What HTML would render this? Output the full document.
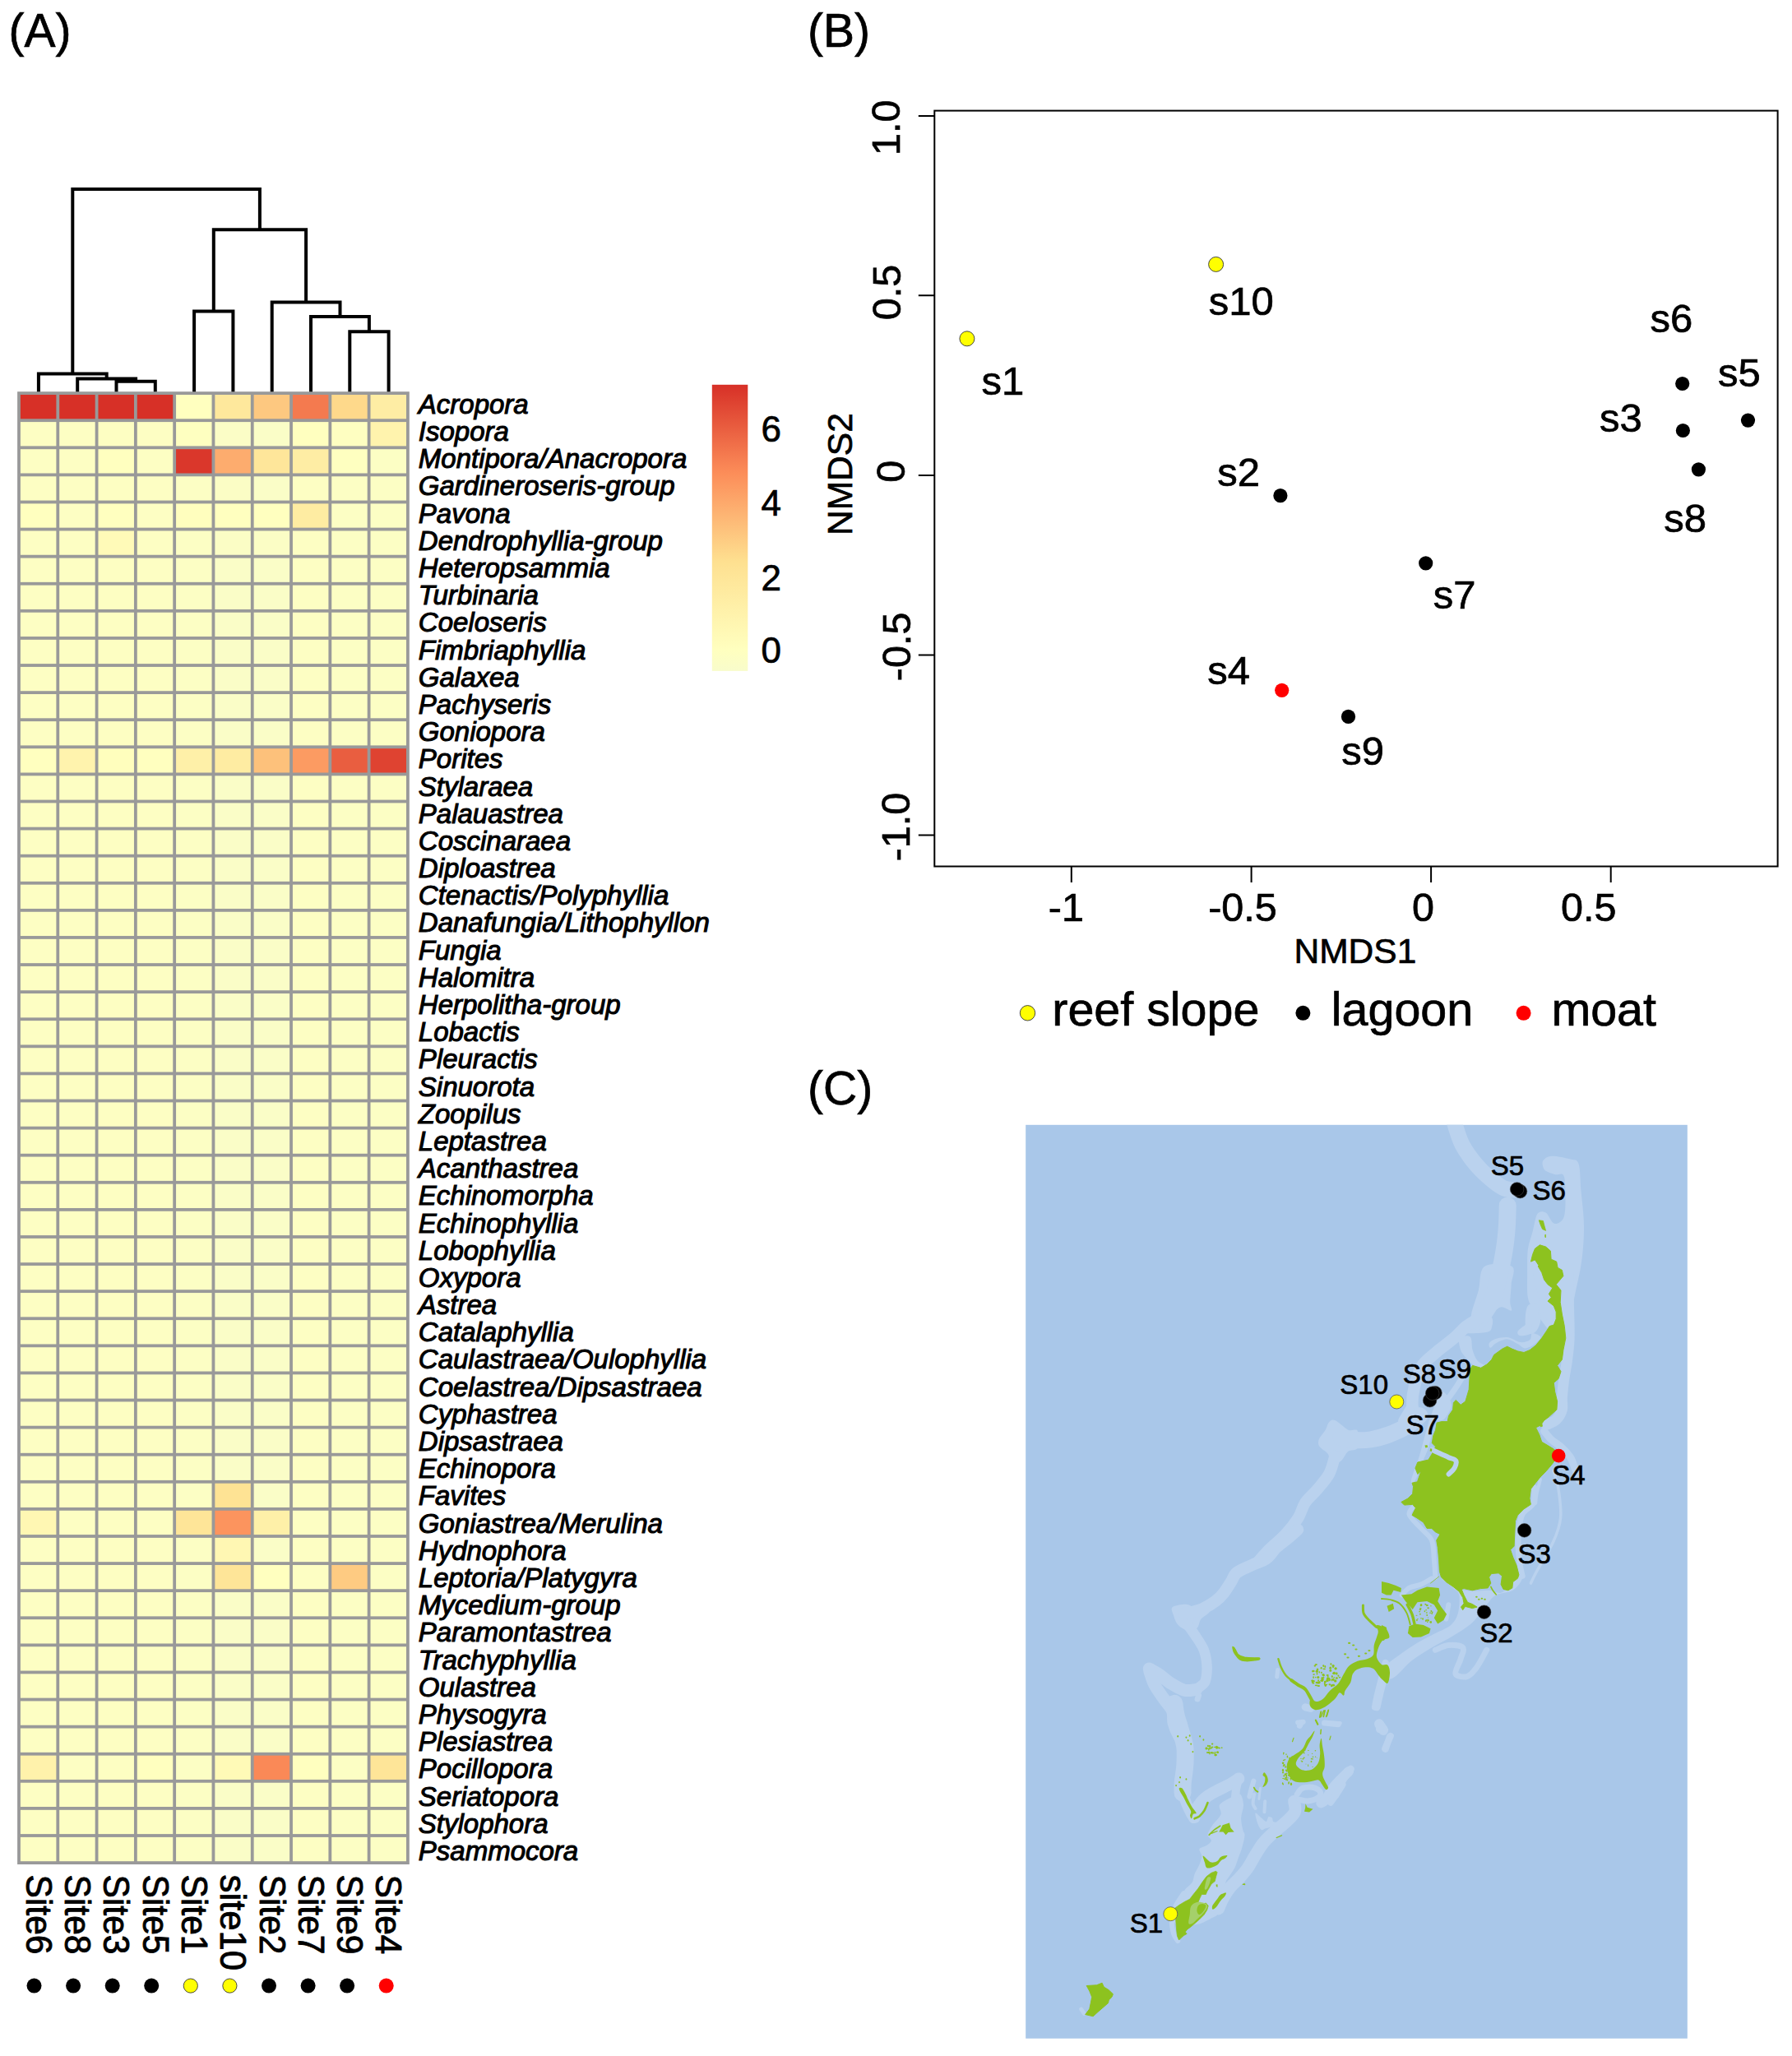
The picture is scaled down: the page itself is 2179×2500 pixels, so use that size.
<!DOCTYPE html>
<html lang="en"><head><meta charset="utf-8"><title>Figure</title>
<style>html,body{margin:0;padding:0;background:#fff}body{width:2179px;height:2500px;overflow:hidden}svg{display:block}text{font-family:"Liberation Sans",Arial,Helvetica,sans-serif;fill:#000;stroke:#000;stroke-width:.7px}.it{font-style:italic}.it text{stroke-width:1.05px}.cl text{stroke-width:.9px}</style></head><body>
<svg width="2179" height="2500" viewBox="0 0 2179 2500">
<rect width="2179" height="2500" fill="#fff"/>
<text x="10.5" y="57.4" font-size="57">(A)</text>
<text x="982" y="57.4" font-size="57">(B)</text>
<text x="982" y="1342.7" font-size="57">(C)</text>
<path d="M141.5 477.2V463.8H188.8V477.2M94.2 477.2V460.5H165.1V463.8M46.9 477.2V454.4H129.7V460.5M425.3 477.2V403.2H472.6V477.2M378.0 477.2V385.1H448.9V403.2M330.7 477.2V367.4H413.5V385.1M236.1 477.2V378.4H283.4V477.2M259.8 378.4V279.3H372.1V367.4M88.3 454.4V230.1H315.9V279.3" fill="none" stroke="#000" stroke-width="4" stroke-linejoin="miter"/>
<rect x="21.1" y="476.2" width="476.7" height="1790.8" fill="#999"/>
<g>
<rect x="24.90" y="480.00" width="43.49" height="29.29" fill="#D73027"/>
<rect x="72.19" y="480.00" width="43.49" height="29.29" fill="#D73027"/>
<rect x="119.48" y="480.00" width="43.49" height="29.29" fill="#D73027"/>
<rect x="166.77" y="480.00" width="43.49" height="29.29" fill="#D73027"/>
<rect x="214.06" y="480.00" width="43.49" height="29.29" fill="#FFFFBF"/>
<rect x="261.35" y="480.00" width="43.49" height="29.29" fill="#FEE89C"/>
<rect x="308.64" y="480.00" width="43.49" height="29.29" fill="#FDC880"/>
<rect x="355.93" y="480.00" width="43.49" height="29.29" fill="#F47A4F"/>
<rect x="403.22" y="480.00" width="43.49" height="29.29" fill="#FED98B"/>
<rect x="450.51" y="480.00" width="43.49" height="29.29" fill="#FEEDA4"/>
<rect x="24.90" y="513.09" width="43.49" height="29.29" fill="#FDFEC3"/>
<rect x="72.19" y="513.09" width="43.49" height="29.29" fill="#FDFEC3"/>
<rect x="119.48" y="513.09" width="43.49" height="29.29" fill="#FDFEC2"/>
<rect x="166.77" y="513.09" width="43.49" height="29.29" fill="#FDFEC3"/>
<rect x="214.06" y="513.09" width="43.49" height="29.29" fill="#FEFFC0"/>
<rect x="261.35" y="513.09" width="43.49" height="29.29" fill="#FBFDC6"/>
<rect x="308.64" y="513.09" width="43.49" height="29.29" fill="#FAFDC7"/>
<rect x="355.93" y="513.09" width="43.49" height="29.29" fill="#FFFFBF"/>
<rect x="403.22" y="513.09" width="43.49" height="29.29" fill="#FEFEC1"/>
<rect x="450.51" y="513.09" width="43.49" height="29.29" fill="#FFF3AD"/>
<rect x="24.90" y="546.19" width="43.49" height="29.29" fill="#FDFEC3"/>
<rect x="72.19" y="546.19" width="43.49" height="29.29" fill="#FDFEC3"/>
<rect x="119.48" y="546.19" width="43.49" height="29.29" fill="#FFFFBF"/>
<rect x="166.77" y="546.19" width="43.49" height="29.29" fill="#FDFEC3"/>
<rect x="214.06" y="546.19" width="43.49" height="29.29" fill="#DA372B"/>
<rect x="261.35" y="546.19" width="43.49" height="29.29" fill="#FDAC6E"/>
<rect x="308.64" y="546.19" width="43.49" height="29.29" fill="#FEE69A"/>
<rect x="355.93" y="546.19" width="43.49" height="29.29" fill="#FEEDA4"/>
<rect x="403.22" y="546.19" width="43.49" height="29.29" fill="#FEFFC0"/>
<rect x="450.51" y="546.19" width="43.49" height="29.29" fill="#FCFEC4"/>
<rect x="24.90" y="579.28" width="43.49" height="29.29" fill="#FDFEC3"/>
<rect x="72.19" y="579.28" width="43.49" height="29.29" fill="#FDFEC3"/>
<rect x="119.48" y="579.28" width="43.49" height="29.29" fill="#FDFEC2"/>
<rect x="166.77" y="579.28" width="43.49" height="29.29" fill="#FDFEC3"/>
<rect x="214.06" y="579.28" width="43.49" height="29.29" fill="#FCFEC4"/>
<rect x="261.35" y="579.28" width="43.49" height="29.29" fill="#FBFDC5"/>
<rect x="308.64" y="579.28" width="43.49" height="29.29" fill="#FAFDC7"/>
<rect x="355.93" y="579.28" width="43.49" height="29.29" fill="#FDFEC3"/>
<rect x="403.22" y="579.28" width="43.49" height="29.29" fill="#FCFEC4"/>
<rect x="450.51" y="579.28" width="43.49" height="29.29" fill="#FCFEC4"/>
<rect x="24.90" y="612.37" width="43.49" height="29.29" fill="#FFFFBF"/>
<rect x="72.19" y="612.37" width="43.49" height="29.29" fill="#FDFEC3"/>
<rect x="119.48" y="612.37" width="43.49" height="29.29" fill="#FFFFBF"/>
<rect x="166.77" y="612.37" width="43.49" height="29.29" fill="#FDFEC3"/>
<rect x="214.06" y="612.37" width="43.49" height="29.29" fill="#FFFEBE"/>
<rect x="261.35" y="612.37" width="43.49" height="29.29" fill="#FFFFBF"/>
<rect x="308.64" y="612.37" width="43.49" height="29.29" fill="#FFFFBF"/>
<rect x="355.93" y="612.37" width="43.49" height="29.29" fill="#FEECA2"/>
<rect x="403.22" y="612.37" width="43.49" height="29.29" fill="#FCFEC4"/>
<rect x="450.51" y="612.37" width="43.49" height="29.29" fill="#FCFEC4"/>
<rect x="24.90" y="645.46" width="43.49" height="29.29" fill="#FDFEC3"/>
<rect x="72.19" y="645.46" width="43.49" height="29.29" fill="#FDFEC3"/>
<rect x="119.48" y="645.46" width="43.49" height="29.29" fill="#FFFAB8"/>
<rect x="166.77" y="645.46" width="43.49" height="29.29" fill="#FDFEC3"/>
<rect x="214.06" y="645.46" width="43.49" height="29.29" fill="#FCFEC4"/>
<rect x="261.35" y="645.46" width="43.49" height="29.29" fill="#FBFDC5"/>
<rect x="308.64" y="645.46" width="43.49" height="29.29" fill="#FBFDC5"/>
<rect x="355.93" y="645.46" width="43.49" height="29.29" fill="#FDFEC3"/>
<rect x="403.22" y="645.46" width="43.49" height="29.29" fill="#FCFEC4"/>
<rect x="450.51" y="645.46" width="43.49" height="29.29" fill="#FCFEC4"/>
<rect x="24.90" y="678.56" width="43.49" height="29.29" fill="#FDFEC3"/>
<rect x="72.19" y="678.56" width="43.49" height="29.29" fill="#FDFEC3"/>
<rect x="119.48" y="678.56" width="43.49" height="29.29" fill="#FDFEC2"/>
<rect x="166.77" y="678.56" width="43.49" height="29.29" fill="#FDFEC3"/>
<rect x="214.06" y="678.56" width="43.49" height="29.29" fill="#FCFEC4"/>
<rect x="261.35" y="678.56" width="43.49" height="29.29" fill="#FAFDC7"/>
<rect x="308.64" y="678.56" width="43.49" height="29.29" fill="#FAFDC7"/>
<rect x="355.93" y="678.56" width="43.49" height="29.29" fill="#FDFEC3"/>
<rect x="403.22" y="678.56" width="43.49" height="29.29" fill="#FCFEC4"/>
<rect x="450.51" y="678.56" width="43.49" height="29.29" fill="#FCFEC4"/>
<rect x="24.90" y="711.65" width="43.49" height="29.29" fill="#FDFEC3"/>
<rect x="72.19" y="711.65" width="43.49" height="29.29" fill="#FDFEC3"/>
<rect x="119.48" y="711.65" width="43.49" height="29.29" fill="#FDFEC2"/>
<rect x="166.77" y="711.65" width="43.49" height="29.29" fill="#FDFEC3"/>
<rect x="214.06" y="711.65" width="43.49" height="29.29" fill="#FCFEC4"/>
<rect x="261.35" y="711.65" width="43.49" height="29.29" fill="#FAFDC7"/>
<rect x="308.64" y="711.65" width="43.49" height="29.29" fill="#FAFDC7"/>
<rect x="355.93" y="711.65" width="43.49" height="29.29" fill="#FDFEC3"/>
<rect x="403.22" y="711.65" width="43.49" height="29.29" fill="#FCFEC4"/>
<rect x="450.51" y="711.65" width="43.49" height="29.29" fill="#FCFEC4"/>
<rect x="24.90" y="744.74" width="43.49" height="29.29" fill="#FDFEC3"/>
<rect x="72.19" y="744.74" width="43.49" height="29.29" fill="#FDFEC3"/>
<rect x="119.48" y="744.74" width="43.49" height="29.29" fill="#FDFEC2"/>
<rect x="166.77" y="744.74" width="43.49" height="29.29" fill="#FDFEC3"/>
<rect x="214.06" y="744.74" width="43.49" height="29.29" fill="#FCFEC4"/>
<rect x="261.35" y="744.74" width="43.49" height="29.29" fill="#FAFDC7"/>
<rect x="308.64" y="744.74" width="43.49" height="29.29" fill="#FAFDC7"/>
<rect x="355.93" y="744.74" width="43.49" height="29.29" fill="#FDFEC3"/>
<rect x="403.22" y="744.74" width="43.49" height="29.29" fill="#FCFEC4"/>
<rect x="450.51" y="744.74" width="43.49" height="29.29" fill="#FCFEC4"/>
<rect x="24.90" y="777.83" width="43.49" height="29.29" fill="#FDFEC3"/>
<rect x="72.19" y="777.83" width="43.49" height="29.29" fill="#FDFEC3"/>
<rect x="119.48" y="777.83" width="43.49" height="29.29" fill="#FDFEC2"/>
<rect x="166.77" y="777.83" width="43.49" height="29.29" fill="#FDFEC3"/>
<rect x="214.06" y="777.83" width="43.49" height="29.29" fill="#FCFEC4"/>
<rect x="261.35" y="777.83" width="43.49" height="29.29" fill="#FAFDC7"/>
<rect x="308.64" y="777.83" width="43.49" height="29.29" fill="#FAFDC7"/>
<rect x="355.93" y="777.83" width="43.49" height="29.29" fill="#FDFEC3"/>
<rect x="403.22" y="777.83" width="43.49" height="29.29" fill="#FCFEC4"/>
<rect x="450.51" y="777.83" width="43.49" height="29.29" fill="#FCFEC4"/>
<rect x="24.90" y="810.93" width="43.49" height="29.29" fill="#FDFEC3"/>
<rect x="72.19" y="810.93" width="43.49" height="29.29" fill="#FDFEC3"/>
<rect x="119.48" y="810.93" width="43.49" height="29.29" fill="#FDFEC2"/>
<rect x="166.77" y="810.93" width="43.49" height="29.29" fill="#FDFEC3"/>
<rect x="214.06" y="810.93" width="43.49" height="29.29" fill="#FCFEC4"/>
<rect x="261.35" y="810.93" width="43.49" height="29.29" fill="#FAFDC7"/>
<rect x="308.64" y="810.93" width="43.49" height="29.29" fill="#FAFDC7"/>
<rect x="355.93" y="810.93" width="43.49" height="29.29" fill="#FDFEC3"/>
<rect x="403.22" y="810.93" width="43.49" height="29.29" fill="#FCFEC4"/>
<rect x="450.51" y="810.93" width="43.49" height="29.29" fill="#FCFEC4"/>
<rect x="24.90" y="844.02" width="43.49" height="29.29" fill="#FDFEC3"/>
<rect x="72.19" y="844.02" width="43.49" height="29.29" fill="#FDFEC3"/>
<rect x="119.48" y="844.02" width="43.49" height="29.29" fill="#FDFEC2"/>
<rect x="166.77" y="844.02" width="43.49" height="29.29" fill="#FDFEC3"/>
<rect x="214.06" y="844.02" width="43.49" height="29.29" fill="#FCFEC4"/>
<rect x="261.35" y="844.02" width="43.49" height="29.29" fill="#FAFDC7"/>
<rect x="308.64" y="844.02" width="43.49" height="29.29" fill="#FAFDC7"/>
<rect x="355.93" y="844.02" width="43.49" height="29.29" fill="#FDFEC3"/>
<rect x="403.22" y="844.02" width="43.49" height="29.29" fill="#FCFEC4"/>
<rect x="450.51" y="844.02" width="43.49" height="29.29" fill="#FCFEC4"/>
<rect x="24.90" y="877.11" width="43.49" height="29.29" fill="#FDFEC3"/>
<rect x="72.19" y="877.11" width="43.49" height="29.29" fill="#FDFEC3"/>
<rect x="119.48" y="877.11" width="43.49" height="29.29" fill="#FDFEC2"/>
<rect x="166.77" y="877.11" width="43.49" height="29.29" fill="#FDFEC3"/>
<rect x="214.06" y="877.11" width="43.49" height="29.29" fill="#FCFEC4"/>
<rect x="261.35" y="877.11" width="43.49" height="29.29" fill="#FAFDC7"/>
<rect x="308.64" y="877.11" width="43.49" height="29.29" fill="#FAFDC7"/>
<rect x="355.93" y="877.11" width="43.49" height="29.29" fill="#FDFEC3"/>
<rect x="403.22" y="877.11" width="43.49" height="29.29" fill="#FCFEC4"/>
<rect x="450.51" y="877.11" width="43.49" height="29.29" fill="#FCFEC4"/>
<rect x="24.90" y="910.20" width="43.49" height="29.29" fill="#FFFFBF"/>
<rect x="72.19" y="910.20" width="43.49" height="29.29" fill="#FFF3AD"/>
<rect x="119.48" y="910.20" width="43.49" height="29.29" fill="#FFFEBD"/>
<rect x="166.77" y="910.20" width="43.49" height="29.29" fill="#FFFFBF"/>
<rect x="214.06" y="910.20" width="43.49" height="29.29" fill="#FEF0A8"/>
<rect x="261.35" y="910.20" width="43.49" height="29.29" fill="#FEECA2"/>
<rect x="308.64" y="910.20" width="43.49" height="29.29" fill="#FDC17B"/>
<rect x="355.93" y="910.20" width="43.49" height="29.29" fill="#FC9B62"/>
<rect x="403.22" y="910.20" width="43.49" height="29.29" fill="#E95E40"/>
<rect x="450.51" y="910.20" width="43.49" height="29.29" fill="#DF4331"/>
<rect x="24.90" y="943.30" width="43.49" height="29.29" fill="#FDFEC3"/>
<rect x="72.19" y="943.30" width="43.49" height="29.29" fill="#FDFEC3"/>
<rect x="119.48" y="943.30" width="43.49" height="29.29" fill="#FDFEC2"/>
<rect x="166.77" y="943.30" width="43.49" height="29.29" fill="#FDFEC3"/>
<rect x="214.06" y="943.30" width="43.49" height="29.29" fill="#FCFEC4"/>
<rect x="261.35" y="943.30" width="43.49" height="29.29" fill="#FAFDC7"/>
<rect x="308.64" y="943.30" width="43.49" height="29.29" fill="#FAFDC7"/>
<rect x="355.93" y="943.30" width="43.49" height="29.29" fill="#FDFEC3"/>
<rect x="403.22" y="943.30" width="43.49" height="29.29" fill="#FCFEC4"/>
<rect x="450.51" y="943.30" width="43.49" height="29.29" fill="#FCFEC4"/>
<rect x="24.90" y="976.39" width="43.49" height="29.29" fill="#FDFEC3"/>
<rect x="72.19" y="976.39" width="43.49" height="29.29" fill="#FDFEC3"/>
<rect x="119.48" y="976.39" width="43.49" height="29.29" fill="#FDFEC2"/>
<rect x="166.77" y="976.39" width="43.49" height="29.29" fill="#FDFEC3"/>
<rect x="214.06" y="976.39" width="43.49" height="29.29" fill="#FCFEC4"/>
<rect x="261.35" y="976.39" width="43.49" height="29.29" fill="#FAFDC7"/>
<rect x="308.64" y="976.39" width="43.49" height="29.29" fill="#FAFDC7"/>
<rect x="355.93" y="976.39" width="43.49" height="29.29" fill="#FDFEC3"/>
<rect x="403.22" y="976.39" width="43.49" height="29.29" fill="#FCFEC4"/>
<rect x="450.51" y="976.39" width="43.49" height="29.29" fill="#FCFEC4"/>
<rect x="24.90" y="1009.48" width="43.49" height="29.29" fill="#FDFEC3"/>
<rect x="72.19" y="1009.48" width="43.49" height="29.29" fill="#FDFEC3"/>
<rect x="119.48" y="1009.48" width="43.49" height="29.29" fill="#FDFEC2"/>
<rect x="166.77" y="1009.48" width="43.49" height="29.29" fill="#FDFEC3"/>
<rect x="214.06" y="1009.48" width="43.49" height="29.29" fill="#FCFEC4"/>
<rect x="261.35" y="1009.48" width="43.49" height="29.29" fill="#FAFDC7"/>
<rect x="308.64" y="1009.48" width="43.49" height="29.29" fill="#FAFDC7"/>
<rect x="355.93" y="1009.48" width="43.49" height="29.29" fill="#FDFEC3"/>
<rect x="403.22" y="1009.48" width="43.49" height="29.29" fill="#FCFEC4"/>
<rect x="450.51" y="1009.48" width="43.49" height="29.29" fill="#FCFEC4"/>
<rect x="24.90" y="1042.57" width="43.49" height="29.29" fill="#FDFEC3"/>
<rect x="72.19" y="1042.57" width="43.49" height="29.29" fill="#FDFEC3"/>
<rect x="119.48" y="1042.57" width="43.49" height="29.29" fill="#FDFEC2"/>
<rect x="166.77" y="1042.57" width="43.49" height="29.29" fill="#FDFEC3"/>
<rect x="214.06" y="1042.57" width="43.49" height="29.29" fill="#FCFEC4"/>
<rect x="261.35" y="1042.57" width="43.49" height="29.29" fill="#FAFDC7"/>
<rect x="308.64" y="1042.57" width="43.49" height="29.29" fill="#FAFDC7"/>
<rect x="355.93" y="1042.57" width="43.49" height="29.29" fill="#FDFEC3"/>
<rect x="403.22" y="1042.57" width="43.49" height="29.29" fill="#FCFEC4"/>
<rect x="450.51" y="1042.57" width="43.49" height="29.29" fill="#FCFEC4"/>
<rect x="24.90" y="1075.67" width="43.49" height="29.29" fill="#FDFEC3"/>
<rect x="72.19" y="1075.67" width="43.49" height="29.29" fill="#FDFEC3"/>
<rect x="119.48" y="1075.67" width="43.49" height="29.29" fill="#FDFEC2"/>
<rect x="166.77" y="1075.67" width="43.49" height="29.29" fill="#FDFEC3"/>
<rect x="214.06" y="1075.67" width="43.49" height="29.29" fill="#FCFEC4"/>
<rect x="261.35" y="1075.67" width="43.49" height="29.29" fill="#FAFDC7"/>
<rect x="308.64" y="1075.67" width="43.49" height="29.29" fill="#FAFDC7"/>
<rect x="355.93" y="1075.67" width="43.49" height="29.29" fill="#FDFEC3"/>
<rect x="403.22" y="1075.67" width="43.49" height="29.29" fill="#FCFEC4"/>
<rect x="450.51" y="1075.67" width="43.49" height="29.29" fill="#FCFEC4"/>
<rect x="24.90" y="1108.76" width="43.49" height="29.29" fill="#FDFEC3"/>
<rect x="72.19" y="1108.76" width="43.49" height="29.29" fill="#FDFEC3"/>
<rect x="119.48" y="1108.76" width="43.49" height="29.29" fill="#FDFEC2"/>
<rect x="166.77" y="1108.76" width="43.49" height="29.29" fill="#FDFEC3"/>
<rect x="214.06" y="1108.76" width="43.49" height="29.29" fill="#FCFEC4"/>
<rect x="261.35" y="1108.76" width="43.49" height="29.29" fill="#FAFDC7"/>
<rect x="308.64" y="1108.76" width="43.49" height="29.29" fill="#FAFDC7"/>
<rect x="355.93" y="1108.76" width="43.49" height="29.29" fill="#FDFEC3"/>
<rect x="403.22" y="1108.76" width="43.49" height="29.29" fill="#FCFEC4"/>
<rect x="450.51" y="1108.76" width="43.49" height="29.29" fill="#FCFEC4"/>
<rect x="24.90" y="1141.85" width="43.49" height="29.29" fill="#FDFEC3"/>
<rect x="72.19" y="1141.85" width="43.49" height="29.29" fill="#FDFEC3"/>
<rect x="119.48" y="1141.85" width="43.49" height="29.29" fill="#FDFEC2"/>
<rect x="166.77" y="1141.85" width="43.49" height="29.29" fill="#FDFEC3"/>
<rect x="214.06" y="1141.85" width="43.49" height="29.29" fill="#FCFEC4"/>
<rect x="261.35" y="1141.85" width="43.49" height="29.29" fill="#FAFDC7"/>
<rect x="308.64" y="1141.85" width="43.49" height="29.29" fill="#FAFDC7"/>
<rect x="355.93" y="1141.85" width="43.49" height="29.29" fill="#FDFEC3"/>
<rect x="403.22" y="1141.85" width="43.49" height="29.29" fill="#FCFEC4"/>
<rect x="450.51" y="1141.85" width="43.49" height="29.29" fill="#FCFEC4"/>
<rect x="24.90" y="1174.94" width="43.49" height="29.29" fill="#FDFEC3"/>
<rect x="72.19" y="1174.94" width="43.49" height="29.29" fill="#FDFEC3"/>
<rect x="119.48" y="1174.94" width="43.49" height="29.29" fill="#FDFEC2"/>
<rect x="166.77" y="1174.94" width="43.49" height="29.29" fill="#FDFEC3"/>
<rect x="214.06" y="1174.94" width="43.49" height="29.29" fill="#FCFEC4"/>
<rect x="261.35" y="1174.94" width="43.49" height="29.29" fill="#FAFDC7"/>
<rect x="308.64" y="1174.94" width="43.49" height="29.29" fill="#FAFDC7"/>
<rect x="355.93" y="1174.94" width="43.49" height="29.29" fill="#FDFEC3"/>
<rect x="403.22" y="1174.94" width="43.49" height="29.29" fill="#FCFEC4"/>
<rect x="450.51" y="1174.94" width="43.49" height="29.29" fill="#FCFEC4"/>
<rect x="24.90" y="1208.04" width="43.49" height="29.29" fill="#FDFEC3"/>
<rect x="72.19" y="1208.04" width="43.49" height="29.29" fill="#FDFEC3"/>
<rect x="119.48" y="1208.04" width="43.49" height="29.29" fill="#FDFEC2"/>
<rect x="166.77" y="1208.04" width="43.49" height="29.29" fill="#FDFEC3"/>
<rect x="214.06" y="1208.04" width="43.49" height="29.29" fill="#FCFEC4"/>
<rect x="261.35" y="1208.04" width="43.49" height="29.29" fill="#FAFDC7"/>
<rect x="308.64" y="1208.04" width="43.49" height="29.29" fill="#FAFDC7"/>
<rect x="355.93" y="1208.04" width="43.49" height="29.29" fill="#FDFEC3"/>
<rect x="403.22" y="1208.04" width="43.49" height="29.29" fill="#FCFEC4"/>
<rect x="450.51" y="1208.04" width="43.49" height="29.29" fill="#FCFEC4"/>
<rect x="24.90" y="1241.13" width="43.49" height="29.29" fill="#FDFEC3"/>
<rect x="72.19" y="1241.13" width="43.49" height="29.29" fill="#FDFEC3"/>
<rect x="119.48" y="1241.13" width="43.49" height="29.29" fill="#FDFEC2"/>
<rect x="166.77" y="1241.13" width="43.49" height="29.29" fill="#FDFEC3"/>
<rect x="214.06" y="1241.13" width="43.49" height="29.29" fill="#FCFEC4"/>
<rect x="261.35" y="1241.13" width="43.49" height="29.29" fill="#FAFDC7"/>
<rect x="308.64" y="1241.13" width="43.49" height="29.29" fill="#FAFDC7"/>
<rect x="355.93" y="1241.13" width="43.49" height="29.29" fill="#FDFEC3"/>
<rect x="403.22" y="1241.13" width="43.49" height="29.29" fill="#FCFEC4"/>
<rect x="450.51" y="1241.13" width="43.49" height="29.29" fill="#FCFEC4"/>
<rect x="24.90" y="1274.22" width="43.49" height="29.29" fill="#FDFEC3"/>
<rect x="72.19" y="1274.22" width="43.49" height="29.29" fill="#FDFEC3"/>
<rect x="119.48" y="1274.22" width="43.49" height="29.29" fill="#FDFEC2"/>
<rect x="166.77" y="1274.22" width="43.49" height="29.29" fill="#FDFEC3"/>
<rect x="214.06" y="1274.22" width="43.49" height="29.29" fill="#FCFEC4"/>
<rect x="261.35" y="1274.22" width="43.49" height="29.29" fill="#FAFDC7"/>
<rect x="308.64" y="1274.22" width="43.49" height="29.29" fill="#FAFDC7"/>
<rect x="355.93" y="1274.22" width="43.49" height="29.29" fill="#FDFEC3"/>
<rect x="403.22" y="1274.22" width="43.49" height="29.29" fill="#FCFEC4"/>
<rect x="450.51" y="1274.22" width="43.49" height="29.29" fill="#FCFEC4"/>
<rect x="24.90" y="1307.31" width="43.49" height="29.29" fill="#FDFEC3"/>
<rect x="72.19" y="1307.31" width="43.49" height="29.29" fill="#FDFEC3"/>
<rect x="119.48" y="1307.31" width="43.49" height="29.29" fill="#FDFEC2"/>
<rect x="166.77" y="1307.31" width="43.49" height="29.29" fill="#FDFEC3"/>
<rect x="214.06" y="1307.31" width="43.49" height="29.29" fill="#FCFEC4"/>
<rect x="261.35" y="1307.31" width="43.49" height="29.29" fill="#FAFDC7"/>
<rect x="308.64" y="1307.31" width="43.49" height="29.29" fill="#FAFDC7"/>
<rect x="355.93" y="1307.31" width="43.49" height="29.29" fill="#FDFEC3"/>
<rect x="403.22" y="1307.31" width="43.49" height="29.29" fill="#FCFEC4"/>
<rect x="450.51" y="1307.31" width="43.49" height="29.29" fill="#FCFEC4"/>
<rect x="24.90" y="1340.41" width="43.49" height="29.29" fill="#FDFEC3"/>
<rect x="72.19" y="1340.41" width="43.49" height="29.29" fill="#FDFEC3"/>
<rect x="119.48" y="1340.41" width="43.49" height="29.29" fill="#FDFEC2"/>
<rect x="166.77" y="1340.41" width="43.49" height="29.29" fill="#FDFEC3"/>
<rect x="214.06" y="1340.41" width="43.49" height="29.29" fill="#FCFEC4"/>
<rect x="261.35" y="1340.41" width="43.49" height="29.29" fill="#FAFDC7"/>
<rect x="308.64" y="1340.41" width="43.49" height="29.29" fill="#FAFDC7"/>
<rect x="355.93" y="1340.41" width="43.49" height="29.29" fill="#FDFEC3"/>
<rect x="403.22" y="1340.41" width="43.49" height="29.29" fill="#FCFEC4"/>
<rect x="450.51" y="1340.41" width="43.49" height="29.29" fill="#FCFEC4"/>
<rect x="24.90" y="1373.50" width="43.49" height="29.29" fill="#FDFEC3"/>
<rect x="72.19" y="1373.50" width="43.49" height="29.29" fill="#FDFEC3"/>
<rect x="119.48" y="1373.50" width="43.49" height="29.29" fill="#FDFEC2"/>
<rect x="166.77" y="1373.50" width="43.49" height="29.29" fill="#FDFEC3"/>
<rect x="214.06" y="1373.50" width="43.49" height="29.29" fill="#FCFEC4"/>
<rect x="261.35" y="1373.50" width="43.49" height="29.29" fill="#FAFDC7"/>
<rect x="308.64" y="1373.50" width="43.49" height="29.29" fill="#FAFDC7"/>
<rect x="355.93" y="1373.50" width="43.49" height="29.29" fill="#FDFEC3"/>
<rect x="403.22" y="1373.50" width="43.49" height="29.29" fill="#FCFEC4"/>
<rect x="450.51" y="1373.50" width="43.49" height="29.29" fill="#FCFEC4"/>
<rect x="24.90" y="1406.59" width="43.49" height="29.29" fill="#FDFEC3"/>
<rect x="72.19" y="1406.59" width="43.49" height="29.29" fill="#FDFEC3"/>
<rect x="119.48" y="1406.59" width="43.49" height="29.29" fill="#FDFEC2"/>
<rect x="166.77" y="1406.59" width="43.49" height="29.29" fill="#FDFEC3"/>
<rect x="214.06" y="1406.59" width="43.49" height="29.29" fill="#FCFEC4"/>
<rect x="261.35" y="1406.59" width="43.49" height="29.29" fill="#FAFDC7"/>
<rect x="308.64" y="1406.59" width="43.49" height="29.29" fill="#FAFDC7"/>
<rect x="355.93" y="1406.59" width="43.49" height="29.29" fill="#FDFEC3"/>
<rect x="403.22" y="1406.59" width="43.49" height="29.29" fill="#FCFEC4"/>
<rect x="450.51" y="1406.59" width="43.49" height="29.29" fill="#FCFEC4"/>
<rect x="24.90" y="1439.69" width="43.49" height="29.29" fill="#FDFEC3"/>
<rect x="72.19" y="1439.69" width="43.49" height="29.29" fill="#FDFEC3"/>
<rect x="119.48" y="1439.69" width="43.49" height="29.29" fill="#FDFEC2"/>
<rect x="166.77" y="1439.69" width="43.49" height="29.29" fill="#FDFEC3"/>
<rect x="214.06" y="1439.69" width="43.49" height="29.29" fill="#FCFEC4"/>
<rect x="261.35" y="1439.69" width="43.49" height="29.29" fill="#FAFDC7"/>
<rect x="308.64" y="1439.69" width="43.49" height="29.29" fill="#FAFDC7"/>
<rect x="355.93" y="1439.69" width="43.49" height="29.29" fill="#FDFEC3"/>
<rect x="403.22" y="1439.69" width="43.49" height="29.29" fill="#FCFEC4"/>
<rect x="450.51" y="1439.69" width="43.49" height="29.29" fill="#FCFEC4"/>
<rect x="24.90" y="1472.78" width="43.49" height="29.29" fill="#FDFEC3"/>
<rect x="72.19" y="1472.78" width="43.49" height="29.29" fill="#FDFEC3"/>
<rect x="119.48" y="1472.78" width="43.49" height="29.29" fill="#FDFEC2"/>
<rect x="166.77" y="1472.78" width="43.49" height="29.29" fill="#FDFEC3"/>
<rect x="214.06" y="1472.78" width="43.49" height="29.29" fill="#FCFEC4"/>
<rect x="261.35" y="1472.78" width="43.49" height="29.29" fill="#FAFDC7"/>
<rect x="308.64" y="1472.78" width="43.49" height="29.29" fill="#FAFDC7"/>
<rect x="355.93" y="1472.78" width="43.49" height="29.29" fill="#FDFEC3"/>
<rect x="403.22" y="1472.78" width="43.49" height="29.29" fill="#FCFEC4"/>
<rect x="450.51" y="1472.78" width="43.49" height="29.29" fill="#FCFEC4"/>
<rect x="24.90" y="1505.87" width="43.49" height="29.29" fill="#FDFEC3"/>
<rect x="72.19" y="1505.87" width="43.49" height="29.29" fill="#FDFEC3"/>
<rect x="119.48" y="1505.87" width="43.49" height="29.29" fill="#FDFEC2"/>
<rect x="166.77" y="1505.87" width="43.49" height="29.29" fill="#FDFEC3"/>
<rect x="214.06" y="1505.87" width="43.49" height="29.29" fill="#FCFEC4"/>
<rect x="261.35" y="1505.87" width="43.49" height="29.29" fill="#FAFDC7"/>
<rect x="308.64" y="1505.87" width="43.49" height="29.29" fill="#FAFDC7"/>
<rect x="355.93" y="1505.87" width="43.49" height="29.29" fill="#FDFEC3"/>
<rect x="403.22" y="1505.87" width="43.49" height="29.29" fill="#FCFEC4"/>
<rect x="450.51" y="1505.87" width="43.49" height="29.29" fill="#FCFEC4"/>
<rect x="24.90" y="1538.96" width="43.49" height="29.29" fill="#FDFEC3"/>
<rect x="72.19" y="1538.96" width="43.49" height="29.29" fill="#FDFEC3"/>
<rect x="119.48" y="1538.96" width="43.49" height="29.29" fill="#FDFEC2"/>
<rect x="166.77" y="1538.96" width="43.49" height="29.29" fill="#FDFEC3"/>
<rect x="214.06" y="1538.96" width="43.49" height="29.29" fill="#FCFEC4"/>
<rect x="261.35" y="1538.96" width="43.49" height="29.29" fill="#FAFDC7"/>
<rect x="308.64" y="1538.96" width="43.49" height="29.29" fill="#FAFDC7"/>
<rect x="355.93" y="1538.96" width="43.49" height="29.29" fill="#FDFEC3"/>
<rect x="403.22" y="1538.96" width="43.49" height="29.29" fill="#FCFEC4"/>
<rect x="450.51" y="1538.96" width="43.49" height="29.29" fill="#FCFEC4"/>
<rect x="24.90" y="1572.06" width="43.49" height="29.29" fill="#FDFEC3"/>
<rect x="72.19" y="1572.06" width="43.49" height="29.29" fill="#FDFEC3"/>
<rect x="119.48" y="1572.06" width="43.49" height="29.29" fill="#FDFEC2"/>
<rect x="166.77" y="1572.06" width="43.49" height="29.29" fill="#FDFEC3"/>
<rect x="214.06" y="1572.06" width="43.49" height="29.29" fill="#FCFEC4"/>
<rect x="261.35" y="1572.06" width="43.49" height="29.29" fill="#FAFDC7"/>
<rect x="308.64" y="1572.06" width="43.49" height="29.29" fill="#FAFDC7"/>
<rect x="355.93" y="1572.06" width="43.49" height="29.29" fill="#FDFEC3"/>
<rect x="403.22" y="1572.06" width="43.49" height="29.29" fill="#FCFEC4"/>
<rect x="450.51" y="1572.06" width="43.49" height="29.29" fill="#FCFEC4"/>
<rect x="24.90" y="1605.15" width="43.49" height="29.29" fill="#FDFEC3"/>
<rect x="72.19" y="1605.15" width="43.49" height="29.29" fill="#FDFEC3"/>
<rect x="119.48" y="1605.15" width="43.49" height="29.29" fill="#FDFEC2"/>
<rect x="166.77" y="1605.15" width="43.49" height="29.29" fill="#FDFEC3"/>
<rect x="214.06" y="1605.15" width="43.49" height="29.29" fill="#FCFEC4"/>
<rect x="261.35" y="1605.15" width="43.49" height="29.29" fill="#FAFDC7"/>
<rect x="308.64" y="1605.15" width="43.49" height="29.29" fill="#FAFDC7"/>
<rect x="355.93" y="1605.15" width="43.49" height="29.29" fill="#FDFEC3"/>
<rect x="403.22" y="1605.15" width="43.49" height="29.29" fill="#FCFEC4"/>
<rect x="450.51" y="1605.15" width="43.49" height="29.29" fill="#FCFEC4"/>
<rect x="24.90" y="1638.24" width="43.49" height="29.29" fill="#FDFEC3"/>
<rect x="72.19" y="1638.24" width="43.49" height="29.29" fill="#FDFEC3"/>
<rect x="119.48" y="1638.24" width="43.49" height="29.29" fill="#FDFEC2"/>
<rect x="166.77" y="1638.24" width="43.49" height="29.29" fill="#FDFEC3"/>
<rect x="214.06" y="1638.24" width="43.49" height="29.29" fill="#FCFEC4"/>
<rect x="261.35" y="1638.24" width="43.49" height="29.29" fill="#FAFDC7"/>
<rect x="308.64" y="1638.24" width="43.49" height="29.29" fill="#FAFDC7"/>
<rect x="355.93" y="1638.24" width="43.49" height="29.29" fill="#FDFEC3"/>
<rect x="403.22" y="1638.24" width="43.49" height="29.29" fill="#FCFEC4"/>
<rect x="450.51" y="1638.24" width="43.49" height="29.29" fill="#FCFEC4"/>
<rect x="24.90" y="1671.33" width="43.49" height="29.29" fill="#FDFEC3"/>
<rect x="72.19" y="1671.33" width="43.49" height="29.29" fill="#FDFEC3"/>
<rect x="119.48" y="1671.33" width="43.49" height="29.29" fill="#FDFEC2"/>
<rect x="166.77" y="1671.33" width="43.49" height="29.29" fill="#FDFEC3"/>
<rect x="214.06" y="1671.33" width="43.49" height="29.29" fill="#FCFEC4"/>
<rect x="261.35" y="1671.33" width="43.49" height="29.29" fill="#FAFDC7"/>
<rect x="308.64" y="1671.33" width="43.49" height="29.29" fill="#FAFDC7"/>
<rect x="355.93" y="1671.33" width="43.49" height="29.29" fill="#FDFEC3"/>
<rect x="403.22" y="1671.33" width="43.49" height="29.29" fill="#FCFEC4"/>
<rect x="450.51" y="1671.33" width="43.49" height="29.29" fill="#FCFEC4"/>
<rect x="24.90" y="1704.43" width="43.49" height="29.29" fill="#FDFEC3"/>
<rect x="72.19" y="1704.43" width="43.49" height="29.29" fill="#FDFEC3"/>
<rect x="119.48" y="1704.43" width="43.49" height="29.29" fill="#FDFEC2"/>
<rect x="166.77" y="1704.43" width="43.49" height="29.29" fill="#FDFEC3"/>
<rect x="214.06" y="1704.43" width="43.49" height="29.29" fill="#FCFEC4"/>
<rect x="261.35" y="1704.43" width="43.49" height="29.29" fill="#FAFDC7"/>
<rect x="308.64" y="1704.43" width="43.49" height="29.29" fill="#FAFDC7"/>
<rect x="355.93" y="1704.43" width="43.49" height="29.29" fill="#FDFEC3"/>
<rect x="403.22" y="1704.43" width="43.49" height="29.29" fill="#FCFEC4"/>
<rect x="450.51" y="1704.43" width="43.49" height="29.29" fill="#FCFEC4"/>
<rect x="24.90" y="1737.52" width="43.49" height="29.29" fill="#FDFEC3"/>
<rect x="72.19" y="1737.52" width="43.49" height="29.29" fill="#FDFEC3"/>
<rect x="119.48" y="1737.52" width="43.49" height="29.29" fill="#FDFEC2"/>
<rect x="166.77" y="1737.52" width="43.49" height="29.29" fill="#FDFEC3"/>
<rect x="214.06" y="1737.52" width="43.49" height="29.29" fill="#FCFEC4"/>
<rect x="261.35" y="1737.52" width="43.49" height="29.29" fill="#FAFDC7"/>
<rect x="308.64" y="1737.52" width="43.49" height="29.29" fill="#FAFDC7"/>
<rect x="355.93" y="1737.52" width="43.49" height="29.29" fill="#FDFEC3"/>
<rect x="403.22" y="1737.52" width="43.49" height="29.29" fill="#FCFEC4"/>
<rect x="450.51" y="1737.52" width="43.49" height="29.29" fill="#FCFEC4"/>
<rect x="24.90" y="1770.61" width="43.49" height="29.29" fill="#FDFEC3"/>
<rect x="72.19" y="1770.61" width="43.49" height="29.29" fill="#FDFEC3"/>
<rect x="119.48" y="1770.61" width="43.49" height="29.29" fill="#FDFEC2"/>
<rect x="166.77" y="1770.61" width="43.49" height="29.29" fill="#FDFEC3"/>
<rect x="214.06" y="1770.61" width="43.49" height="29.29" fill="#FCFEC4"/>
<rect x="261.35" y="1770.61" width="43.49" height="29.29" fill="#FAFDC7"/>
<rect x="308.64" y="1770.61" width="43.49" height="29.29" fill="#FAFDC7"/>
<rect x="355.93" y="1770.61" width="43.49" height="29.29" fill="#FDFEC3"/>
<rect x="403.22" y="1770.61" width="43.49" height="29.29" fill="#FCFEC4"/>
<rect x="450.51" y="1770.61" width="43.49" height="29.29" fill="#FCFEC4"/>
<rect x="24.90" y="1803.70" width="43.49" height="29.29" fill="#FDFEC3"/>
<rect x="72.19" y="1803.70" width="43.49" height="29.29" fill="#FDFEC3"/>
<rect x="119.48" y="1803.70" width="43.49" height="29.29" fill="#FDFEC2"/>
<rect x="166.77" y="1803.70" width="43.49" height="29.29" fill="#FDFEC3"/>
<rect x="214.06" y="1803.70" width="43.49" height="29.29" fill="#FCFEC4"/>
<rect x="261.35" y="1803.70" width="43.49" height="29.29" fill="#FEE394"/>
<rect x="308.64" y="1803.70" width="43.49" height="29.29" fill="#FAFDC7"/>
<rect x="355.93" y="1803.70" width="43.49" height="29.29" fill="#FDFEC3"/>
<rect x="403.22" y="1803.70" width="43.49" height="29.29" fill="#FCFEC4"/>
<rect x="450.51" y="1803.70" width="43.49" height="29.29" fill="#FCFEC4"/>
<rect x="24.90" y="1836.80" width="43.49" height="29.29" fill="#FFF7B3"/>
<rect x="72.19" y="1836.80" width="43.49" height="29.29" fill="#FDFEC3"/>
<rect x="119.48" y="1836.80" width="43.49" height="29.29" fill="#FDFEC2"/>
<rect x="166.77" y="1836.80" width="43.49" height="29.29" fill="#FDFEC3"/>
<rect x="214.06" y="1836.80" width="43.49" height="29.29" fill="#FEE598"/>
<rect x="261.35" y="1836.80" width="43.49" height="29.29" fill="#FC945E"/>
<rect x="308.64" y="1836.80" width="43.49" height="29.29" fill="#FEF0A8"/>
<rect x="355.93" y="1836.80" width="43.49" height="29.29" fill="#FDFEC3"/>
<rect x="403.22" y="1836.80" width="43.49" height="29.29" fill="#FCFEC4"/>
<rect x="450.51" y="1836.80" width="43.49" height="29.29" fill="#FCFEC4"/>
<rect x="24.90" y="1869.89" width="43.49" height="29.29" fill="#FDFEC3"/>
<rect x="72.19" y="1869.89" width="43.49" height="29.29" fill="#FDFEC3"/>
<rect x="119.48" y="1869.89" width="43.49" height="29.29" fill="#FDFEC2"/>
<rect x="166.77" y="1869.89" width="43.49" height="29.29" fill="#FDFEC3"/>
<rect x="214.06" y="1869.89" width="43.49" height="29.29" fill="#FCFEC4"/>
<rect x="261.35" y="1869.89" width="43.49" height="29.29" fill="#FFF7B3"/>
<rect x="308.64" y="1869.89" width="43.49" height="29.29" fill="#FAFDC7"/>
<rect x="355.93" y="1869.89" width="43.49" height="29.29" fill="#FDFEC3"/>
<rect x="403.22" y="1869.89" width="43.49" height="29.29" fill="#FCFEC4"/>
<rect x="450.51" y="1869.89" width="43.49" height="29.29" fill="#FCFEC4"/>
<rect x="24.90" y="1902.98" width="43.49" height="29.29" fill="#FDFEC3"/>
<rect x="72.19" y="1902.98" width="43.49" height="29.29" fill="#FDFEC3"/>
<rect x="119.48" y="1902.98" width="43.49" height="29.29" fill="#FDFEC2"/>
<rect x="166.77" y="1902.98" width="43.49" height="29.29" fill="#FDFEC3"/>
<rect x="214.06" y="1902.98" width="43.49" height="29.29" fill="#FCFEC4"/>
<rect x="261.35" y="1902.98" width="43.49" height="29.29" fill="#FEE598"/>
<rect x="308.64" y="1902.98" width="43.49" height="29.29" fill="#FFFFBF"/>
<rect x="355.93" y="1902.98" width="43.49" height="29.29" fill="#FDFEC3"/>
<rect x="403.22" y="1902.98" width="43.49" height="29.29" fill="#FECB82"/>
<rect x="450.51" y="1902.98" width="43.49" height="29.29" fill="#FCFEC4"/>
<rect x="24.90" y="1936.07" width="43.49" height="29.29" fill="#FDFEC3"/>
<rect x="72.19" y="1936.07" width="43.49" height="29.29" fill="#FDFEC3"/>
<rect x="119.48" y="1936.07" width="43.49" height="29.29" fill="#FDFEC2"/>
<rect x="166.77" y="1936.07" width="43.49" height="29.29" fill="#FDFEC3"/>
<rect x="214.06" y="1936.07" width="43.49" height="29.29" fill="#FCFEC4"/>
<rect x="261.35" y="1936.07" width="43.49" height="29.29" fill="#FAFDC7"/>
<rect x="308.64" y="1936.07" width="43.49" height="29.29" fill="#FAFDC7"/>
<rect x="355.93" y="1936.07" width="43.49" height="29.29" fill="#FDFEC3"/>
<rect x="403.22" y="1936.07" width="43.49" height="29.29" fill="#FCFEC4"/>
<rect x="450.51" y="1936.07" width="43.49" height="29.29" fill="#FCFEC4"/>
<rect x="24.90" y="1969.17" width="43.49" height="29.29" fill="#FDFEC3"/>
<rect x="72.19" y="1969.17" width="43.49" height="29.29" fill="#FDFEC3"/>
<rect x="119.48" y="1969.17" width="43.49" height="29.29" fill="#FDFEC2"/>
<rect x="166.77" y="1969.17" width="43.49" height="29.29" fill="#FDFEC3"/>
<rect x="214.06" y="1969.17" width="43.49" height="29.29" fill="#FCFEC4"/>
<rect x="261.35" y="1969.17" width="43.49" height="29.29" fill="#FAFDC7"/>
<rect x="308.64" y="1969.17" width="43.49" height="29.29" fill="#FAFDC7"/>
<rect x="355.93" y="1969.17" width="43.49" height="29.29" fill="#FDFEC3"/>
<rect x="403.22" y="1969.17" width="43.49" height="29.29" fill="#FCFEC4"/>
<rect x="450.51" y="1969.17" width="43.49" height="29.29" fill="#FCFEC4"/>
<rect x="24.90" y="2002.26" width="43.49" height="29.29" fill="#FDFEC3"/>
<rect x="72.19" y="2002.26" width="43.49" height="29.29" fill="#FDFEC3"/>
<rect x="119.48" y="2002.26" width="43.49" height="29.29" fill="#FDFEC2"/>
<rect x="166.77" y="2002.26" width="43.49" height="29.29" fill="#FDFEC3"/>
<rect x="214.06" y="2002.26" width="43.49" height="29.29" fill="#FCFEC4"/>
<rect x="261.35" y="2002.26" width="43.49" height="29.29" fill="#FAFDC7"/>
<rect x="308.64" y="2002.26" width="43.49" height="29.29" fill="#FAFDC7"/>
<rect x="355.93" y="2002.26" width="43.49" height="29.29" fill="#FDFEC3"/>
<rect x="403.22" y="2002.26" width="43.49" height="29.29" fill="#FCFEC4"/>
<rect x="450.51" y="2002.26" width="43.49" height="29.29" fill="#FCFEC4"/>
<rect x="24.90" y="2035.35" width="43.49" height="29.29" fill="#FDFEC3"/>
<rect x="72.19" y="2035.35" width="43.49" height="29.29" fill="#FDFEC3"/>
<rect x="119.48" y="2035.35" width="43.49" height="29.29" fill="#FDFEC2"/>
<rect x="166.77" y="2035.35" width="43.49" height="29.29" fill="#FDFEC3"/>
<rect x="214.06" y="2035.35" width="43.49" height="29.29" fill="#FCFEC4"/>
<rect x="261.35" y="2035.35" width="43.49" height="29.29" fill="#FAFDC7"/>
<rect x="308.64" y="2035.35" width="43.49" height="29.29" fill="#FAFDC7"/>
<rect x="355.93" y="2035.35" width="43.49" height="29.29" fill="#FDFEC3"/>
<rect x="403.22" y="2035.35" width="43.49" height="29.29" fill="#FCFEC4"/>
<rect x="450.51" y="2035.35" width="43.49" height="29.29" fill="#FCFEC4"/>
<rect x="24.90" y="2068.44" width="43.49" height="29.29" fill="#FDFEC3"/>
<rect x="72.19" y="2068.44" width="43.49" height="29.29" fill="#FDFEC3"/>
<rect x="119.48" y="2068.44" width="43.49" height="29.29" fill="#FDFEC2"/>
<rect x="166.77" y="2068.44" width="43.49" height="29.29" fill="#FDFEC3"/>
<rect x="214.06" y="2068.44" width="43.49" height="29.29" fill="#FCFEC4"/>
<rect x="261.35" y="2068.44" width="43.49" height="29.29" fill="#FAFDC7"/>
<rect x="308.64" y="2068.44" width="43.49" height="29.29" fill="#FAFDC7"/>
<rect x="355.93" y="2068.44" width="43.49" height="29.29" fill="#FDFEC3"/>
<rect x="403.22" y="2068.44" width="43.49" height="29.29" fill="#FCFEC4"/>
<rect x="450.51" y="2068.44" width="43.49" height="29.29" fill="#FCFEC4"/>
<rect x="24.90" y="2101.54" width="43.49" height="29.29" fill="#FDFEC3"/>
<rect x="72.19" y="2101.54" width="43.49" height="29.29" fill="#FDFEC3"/>
<rect x="119.48" y="2101.54" width="43.49" height="29.29" fill="#FDFEC2"/>
<rect x="166.77" y="2101.54" width="43.49" height="29.29" fill="#FDFEC3"/>
<rect x="214.06" y="2101.54" width="43.49" height="29.29" fill="#FCFEC4"/>
<rect x="261.35" y="2101.54" width="43.49" height="29.29" fill="#FAFDC7"/>
<rect x="308.64" y="2101.54" width="43.49" height="29.29" fill="#FAFDC7"/>
<rect x="355.93" y="2101.54" width="43.49" height="29.29" fill="#FDFEC3"/>
<rect x="403.22" y="2101.54" width="43.49" height="29.29" fill="#FCFEC4"/>
<rect x="450.51" y="2101.54" width="43.49" height="29.29" fill="#FCFEC4"/>
<rect x="24.90" y="2134.63" width="43.49" height="29.29" fill="#FFF2AB"/>
<rect x="72.19" y="2134.63" width="43.49" height="29.29" fill="#FDFEC3"/>
<rect x="119.48" y="2134.63" width="43.49" height="29.29" fill="#FDFEC2"/>
<rect x="166.77" y="2134.63" width="43.49" height="29.29" fill="#FFFFBF"/>
<rect x="214.06" y="2134.63" width="43.49" height="29.29" fill="#FCFEC4"/>
<rect x="261.35" y="2134.63" width="43.49" height="29.29" fill="#FFFAB7"/>
<rect x="308.64" y="2134.63" width="43.49" height="29.29" fill="#FA8957"/>
<rect x="355.93" y="2134.63" width="43.49" height="29.29" fill="#FFFFBF"/>
<rect x="403.22" y="2134.63" width="43.49" height="29.29" fill="#FCFEC4"/>
<rect x="450.51" y="2134.63" width="43.49" height="29.29" fill="#FEE598"/>
<rect x="24.90" y="2167.72" width="43.49" height="29.29" fill="#FDFEC3"/>
<rect x="72.19" y="2167.72" width="43.49" height="29.29" fill="#FDFEC3"/>
<rect x="119.48" y="2167.72" width="43.49" height="29.29" fill="#FDFEC2"/>
<rect x="166.77" y="2167.72" width="43.49" height="29.29" fill="#FDFEC3"/>
<rect x="214.06" y="2167.72" width="43.49" height="29.29" fill="#FCFEC4"/>
<rect x="261.35" y="2167.72" width="43.49" height="29.29" fill="#FAFDC7"/>
<rect x="308.64" y="2167.72" width="43.49" height="29.29" fill="#FAFDC7"/>
<rect x="355.93" y="2167.72" width="43.49" height="29.29" fill="#FDFEC3"/>
<rect x="403.22" y="2167.72" width="43.49" height="29.29" fill="#FCFEC4"/>
<rect x="450.51" y="2167.72" width="43.49" height="29.29" fill="#FCFEC4"/>
<rect x="24.90" y="2200.81" width="43.49" height="29.29" fill="#FDFEC3"/>
<rect x="72.19" y="2200.81" width="43.49" height="29.29" fill="#FDFEC3"/>
<rect x="119.48" y="2200.81" width="43.49" height="29.29" fill="#FDFEC2"/>
<rect x="166.77" y="2200.81" width="43.49" height="29.29" fill="#FDFEC3"/>
<rect x="214.06" y="2200.81" width="43.49" height="29.29" fill="#FCFEC4"/>
<rect x="261.35" y="2200.81" width="43.49" height="29.29" fill="#FAFDC7"/>
<rect x="308.64" y="2200.81" width="43.49" height="29.29" fill="#FAFDC7"/>
<rect x="355.93" y="2200.81" width="43.49" height="29.29" fill="#FDFEC3"/>
<rect x="403.22" y="2200.81" width="43.49" height="29.29" fill="#FCFEC4"/>
<rect x="450.51" y="2200.81" width="43.49" height="29.29" fill="#FCFEC4"/>
<rect x="24.90" y="2233.91" width="43.49" height="29.29" fill="#FDFEC3"/>
<rect x="72.19" y="2233.91" width="43.49" height="29.29" fill="#FDFEC3"/>
<rect x="119.48" y="2233.91" width="43.49" height="29.29" fill="#FDFEC2"/>
<rect x="166.77" y="2233.91" width="43.49" height="29.29" fill="#FDFEC3"/>
<rect x="214.06" y="2233.91" width="43.49" height="29.29" fill="#FCFEC4"/>
<rect x="261.35" y="2233.91" width="43.49" height="29.29" fill="#FAFDC7"/>
<rect x="308.64" y="2233.91" width="43.49" height="29.29" fill="#FAFDC7"/>
<rect x="355.93" y="2233.91" width="43.49" height="29.29" fill="#FDFEC3"/>
<rect x="403.22" y="2233.91" width="43.49" height="29.29" fill="#FCFEC4"/>
<rect x="450.51" y="2233.91" width="43.49" height="29.29" fill="#FCFEC4"/>
</g>
<g class="it" font-size="33">
<text x="508.8" y="502.8">Acropora</text>
<text x="508.8" y="536.0">Isopora</text>
<text x="508.8" y="569.2">Montipora/Anacropora</text>
<text x="508.8" y="602.4">Gardineroseris-group</text>
<text x="508.8" y="635.6">Pavona</text>
<text x="508.8" y="668.8">Dendrophyllia-group</text>
<text x="508.8" y="701.9">Heteropsammia</text>
<text x="508.8" y="735.1">Turbinaria</text>
<text x="508.8" y="768.3">Coeloseris</text>
<text x="508.8" y="801.5">Fimbriaphyllia</text>
<text x="508.8" y="834.7">Galaxea</text>
<text x="508.8" y="867.9">Pachyseris</text>
<text x="508.8" y="901.1">Goniopora</text>
<text x="508.8" y="934.3">Porites</text>
<text x="508.8" y="967.5">Stylaraea</text>
<text x="508.8" y="1000.6">Palauastrea</text>
<text x="508.8" y="1033.8">Coscinaraea</text>
<text x="508.8" y="1067.0">Diploastrea</text>
<text x="508.8" y="1100.2">Ctenactis/Polyphyllia</text>
<text x="508.8" y="1133.4">Danafungia/Lithophyllon</text>
<text x="508.8" y="1166.6">Fungia</text>
<text x="508.8" y="1199.8">Halomitra</text>
<text x="508.8" y="1233.0">Herpolitha-group</text>
<text x="508.8" y="1266.2">Lobactis</text>
<text x="508.8" y="1299.4">Pleuractis</text>
<text x="508.8" y="1332.5">Sinuorota</text>
<text x="508.8" y="1365.7">Zoopilus</text>
<text x="508.8" y="1398.9">Leptastrea</text>
<text x="508.8" y="1432.1">Acanthastrea</text>
<text x="508.8" y="1465.3">Echinomorpha</text>
<text x="508.8" y="1498.5">Echinophyllia</text>
<text x="508.8" y="1531.7">Lobophyllia</text>
<text x="508.8" y="1564.9">Oxypora</text>
<text x="508.8" y="1598.1">Astrea</text>
<text x="508.8" y="1631.3">Catalaphyllia</text>
<text x="508.8" y="1664.4">Caulastraea/Oulophyllia</text>
<text x="508.8" y="1697.6">Coelastrea/Dipsastraea</text>
<text x="508.8" y="1730.8">Cyphastrea</text>
<text x="508.8" y="1764.0">Dipsastraea</text>
<text x="508.8" y="1797.2">Echinopora</text>
<text x="508.8" y="1830.4">Favites</text>
<text x="508.8" y="1863.6">Goniastrea/Merulina</text>
<text x="508.8" y="1896.8">Hydnophora</text>
<text x="508.8" y="1930.0">Leptoria/Platygyra</text>
<text x="508.8" y="1963.2">Mycedium-group</text>
<text x="508.8" y="1996.3">Paramontastrea</text>
<text x="508.8" y="2029.5">Trachyphyllia</text>
<text x="508.8" y="2062.7">Oulastrea</text>
<text x="508.8" y="2095.9">Physogyra</text>
<text x="508.8" y="2129.1">Plesiastrea</text>
<text x="508.8" y="2162.3">Pocillopora</text>
<text x="508.8" y="2195.5">Seriatopora</text>
<text x="508.8" y="2228.7">Stylophora</text>
<text x="508.8" y="2261.9">Psammocora</text>
</g>
<g class="cl" font-size="45">
<text transform="translate(31.7 2279.6) rotate(90)" textLength="96.8" lengthAdjust="spacingAndGlyphs">Site6</text>
<text transform="translate(79.0 2279.6) rotate(90)" textLength="96.8" lengthAdjust="spacingAndGlyphs">Site8</text>
<text transform="translate(126.3 2279.6) rotate(90)" textLength="96.8" lengthAdjust="spacingAndGlyphs">Site3</text>
<text transform="translate(173.6 2279.6) rotate(90)" textLength="96.8" lengthAdjust="spacingAndGlyphs">Site5</text>
<text transform="translate(220.9 2279.6) rotate(90)" textLength="96.8" lengthAdjust="spacingAndGlyphs">Site1</text>
<text transform="translate(268.2 2279.6) rotate(90)" textLength="116.5" lengthAdjust="spacingAndGlyphs">site10</text>
<text transform="translate(315.5 2279.6) rotate(90)" textLength="96.8" lengthAdjust="spacingAndGlyphs">Site2</text>
<text transform="translate(362.8 2279.6) rotate(90)" textLength="96.8" lengthAdjust="spacingAndGlyphs">Site7</text>
<text transform="translate(410.1 2279.6) rotate(90)" textLength="96.8" lengthAdjust="spacingAndGlyphs">Site9</text>
<text transform="translate(457.4 2279.6) rotate(90)" textLength="96.8" lengthAdjust="spacingAndGlyphs">Site4</text>
</g>
<circle cx="41.5" cy="2414.6" r="9" fill="#000"/>
<circle cx="89.1" cy="2414.6" r="9" fill="#000"/>
<circle cx="136.7" cy="2414.6" r="9" fill="#000"/>
<circle cx="184.2" cy="2414.6" r="9" fill="#000"/>
<circle cx="231.8" cy="2414.6" r="8.6" fill="#FFFF00" stroke="#333" stroke-width="0.9"/>
<circle cx="279.4" cy="2414.6" r="8.6" fill="#FFFF00" stroke="#333" stroke-width="0.9"/>
<circle cx="327.0" cy="2414.6" r="9" fill="#000"/>
<circle cx="374.6" cy="2414.6" r="9" fill="#000"/>
<circle cx="422.1" cy="2414.6" r="9" fill="#000"/>
<circle cx="469.7" cy="2414.6" r="9" fill="#FF0000"/>
<defs><linearGradient id="lg" x1="0" y1="1" x2="0" y2="0">
<stop offset="0.0000" stop-color="#F8FCCB"/>
<stop offset="0.0735" stop-color="#FFFFBF"/>
<stop offset="0.3827" stop-color="#FEE090"/>
<stop offset="0.6920" stop-color="#FC8D59"/>
<stop offset="1.0000" stop-color="#D73027"/>
</linearGradient></defs>
<rect x="865.8" y="467.8" width="43.5" height="348.1" fill="url(#lg)"/>
<text x="925.5" y="537.1" font-size="44">6</text>
<text x="925.5" y="627.0" font-size="44">4</text>
<text x="925.5" y="717.5" font-size="44">2</text>
<text x="925.5" y="806.0" font-size="44">0</text>
<rect x="1136.3" y="134.6" width="1025.3" height="918.9" fill="none" stroke="#000" stroke-width="2"/>
<path d="M1116.8 140.9H1136.3M1116.8 359.2H1136.3M1116.8 577.9H1136.3M1116.8 796.4H1136.3M1116.8 1015.5H1136.3M1302.8 1053.5V1073.0M1521.6 1053.5V1073.0M1740.1 1053.5V1073.0M1958.7 1053.5V1073.0" stroke="#000" stroke-width="2" fill="none"/>
<g font-size="48.5" text-anchor="middle">
<text transform="translate(1093.8 155.2) rotate(-90)">1.0</text>
<text transform="translate(1095.1 355.5) rotate(-90)">0.5</text>
<text transform="translate(1099.6 573.2) rotate(-90)">0</text>
<text transform="translate(1107.4 786.4) rotate(-90)">-0.5</text>
<text transform="translate(1105.8 1005.5) rotate(-90)">-1.0</text>
<text x="1296.4" y="1119.8">-1</text>
<text x="1511.0" y="1119.8">-0.5</text>
<text x="1730.6" y="1119.8">0</text>
<text x="1931.7" y="1119.8">0.5</text>
</g>
<text x="1647.9" y="1170.6" font-size="42.5" text-anchor="middle">NMDS1</text>
<text transform="translate(1036.3 576.6) rotate(-90)" font-size="42.5" text-anchor="middle">NMDS2</text>
<circle cx="1175.9" cy="411.8" r="9.0" fill="#FFFF00" stroke="#333" stroke-width="0.9"/>
<circle cx="1478.6" cy="321.4" r="9.0" fill="#FFFF00" stroke="#333" stroke-width="0.9"/>
<circle cx="2045.7" cy="466.5" r="8.6" fill="#000"/>
<circle cx="2125.5" cy="511.1" r="8.6" fill="#000"/>
<circle cx="2046.4" cy="523.5" r="8.6" fill="#000"/>
<circle cx="2065.4" cy="570.8" r="8.6" fill="#000"/>
<circle cx="1733.7" cy="684.8" r="8.6" fill="#000"/>
<circle cx="1556.9" cy="602.7" r="8.6" fill="#000"/>
<circle cx="1558.7" cy="839.3" r="8.6" fill="#FF0000"/>
<circle cx="1639.5" cy="871.4" r="8.6" fill="#000"/>
<g font-size="49.0">
<text x="1193.4" y="480.2">s1</text>
<text x="1469.7" y="383.2">s10</text>
<text x="2006.4" y="404.1">s6</text>
<text x="2088.9" y="469.8">s5</text>
<text x="1944.9" y="525.0">s3</text>
<text x="2023.3" y="647.0">s8</text>
<text x="1742.8" y="739.9">s7</text>
<text x="1480.3" y="591.1">s2</text>
<text x="1468.3" y="831.8">s4</text>
<text x="1631.2" y="930.0">s9</text>
</g>
<circle cx="1249.5" cy="1231.8" r="9.2" fill="#FFFF00" stroke="#333" stroke-width="0.9"/>
<circle cx="1584.4" cy="1231.8" r="9.0" fill="#000"/>
<circle cx="1852.6" cy="1231.8" r="9.0" fill="#FF0000"/>
<g font-size="57.4">
<text x="1279.3" y="1247.2">reef slope</text>
<text x="1618.8" y="1247.2">lagoon</text>
<text x="1886.4" y="1247.2">moat</text>
</g>
<clipPath id="mc"><rect x="1247.2" y="1367.8" width="804.6" height="1110.9"/></clipPath>
<rect x="1247.2" y="1367.8" width="804.6" height="1110.9" fill="#A9C7E9"/>
<g clip-path="url(#mc)">
<path d="M1876.7 1410.8C1878.5 1408.7 1881.5 1405.9 1886.9 1405.7C1892.2 1405.5 1903.2 1407.8 1908.6 1409.3C1914.1 1410.9 1917.2 1408.8 1919.5 1415.1C1921.8 1421.4 1921.3 1434.5 1922.4 1447.1C1923.5 1459.6 1925.9 1476.1 1926.0 1490.6C1926.2 1505.1 1925.1 1519.6 1923.1 1534.1C1921.2 1548.6 1917.1 1563.3 1914.4 1577.6C1911.8 1592.0 1911.8 1613.0 1907.2 1620.0C1902.6 1627.1 1893.9 1624.7 1886.9 1620.0C1879.8 1615.4 1869.9 1599.2 1865.1 1592.2C1860.3 1585.1 1859.2 1584.9 1857.8 1577.6C1856.5 1570.4 1857.1 1558.3 1857.1 1548.6C1857.1 1539.0 1856.8 1528.1 1857.8 1519.6C1858.9 1511.1 1861.7 1505.1 1863.6 1497.8C1865.6 1490.6 1866.8 1479.9 1869.4 1476.1C1872.1 1472.2 1876.2 1472.7 1879.6 1474.6C1883.0 1476.6 1886.1 1486.7 1889.8 1487.7C1893.4 1488.7 1899.1 1486.0 1901.4 1480.4C1903.7 1474.9 1903.5 1462.8 1903.5 1454.3C1903.5 1445.8 1903.4 1434.0 1901.4 1429.6C1899.3 1425.3 1894.8 1429.2 1891.2 1428.2C1887.6 1427.2 1882.1 1425.5 1879.6 1423.8C1877.1 1422.1 1876.5 1420.2 1876.0 1418.0C1875.5 1415.9 1874.9 1412.8 1876.7 1410.8Z" fill="#BAD2EE"/>
<path d="M1859.3 1586.3C1862.0 1584.9 1868.6 1587.3 1870.9 1590.7C1873.2 1594.1 1873.8 1601.8 1873.1 1606.7C1872.4 1611.5 1869.3 1617.8 1866.5 1620.0C1863.8 1622.2 1858.3 1623.4 1856.4 1620.0C1854.5 1616.6 1854.5 1605.0 1854.9 1599.4C1855.4 1593.8 1856.6 1587.8 1859.3 1586.3Z" fill="#BAD2EE"/>
<path d="M1772.2 1620.0C1767.9 1617.8 1777.1 1609.9 1780.9 1606.7C1784.8 1603.5 1790.1 1601.8 1795.4 1600.9C1800.8 1599.9 1809.7 1598.9 1812.9 1600.9C1816.0 1602.8 1815.3 1609.3 1814.3 1612.5C1813.3 1615.7 1814.1 1618.8 1807.1 1620.0C1800.0 1621.3 1776.6 1622.2 1772.2 1620.0Z" fill="#BAD2EE"/>
<path d="M1805.1 1540.0C1811.9 1535.2 1833.0 1536.4 1838.5 1540.0C1843.9 1543.6 1838.1 1554.5 1837.7 1561.8C1837.4 1569.0 1836.3 1578.2 1836.3 1583.5C1836.3 1588.8 1839.6 1592.7 1837.7 1593.7C1835.9 1594.7 1829.4 1588.6 1825.4 1589.3C1821.4 1590.1 1816.5 1595.6 1813.8 1598.0C1811.1 1600.5 1812.8 1602.4 1809.4 1603.8C1806.1 1605.3 1796.9 1607.7 1793.5 1606.7C1790.1 1605.8 1788.4 1604.3 1789.1 1598.0C1789.9 1591.8 1795.2 1578.7 1797.8 1569.0C1800.5 1559.3 1798.3 1544.8 1805.1 1540.0Z" fill="#BAD2EE"/>
<path d="M1774.6 1627.1C1776.6 1624.4 1785.0 1623.2 1787.7 1625.6C1790.3 1628.0 1789.1 1636.7 1790.6 1641.6C1792.0 1646.4 1794.0 1651.5 1796.4 1654.6C1798.8 1657.8 1804.6 1659.0 1805.1 1660.4C1805.6 1661.9 1801.7 1663.6 1799.3 1663.3C1796.9 1663.1 1793.5 1661.2 1790.6 1659.0C1787.7 1656.8 1784.3 1653.2 1781.9 1650.3C1779.5 1647.4 1777.3 1645.4 1776.1 1641.6C1774.9 1637.7 1772.7 1629.7 1774.6 1627.1Z" fill="#BAD2EE"/>
<path d="M1812.4 1638.7C1813.8 1638.7 1816.2 1634.6 1819.6 1632.9C1823.0 1631.2 1828.3 1628.3 1832.7 1628.5C1837.0 1628.8 1842.1 1632.5 1845.7 1634.3C1849.3 1636.1 1851.0 1639.4 1854.4 1639.4C1857.8 1639.4 1862.9 1636.6 1866.0 1634.3C1869.2 1632.0 1873.8 1627.8 1873.3 1625.6C1872.8 1623.4 1865.3 1620.6 1863.1 1621.3C1861.0 1621.9 1862.7 1627.4 1860.2 1629.2C1857.8 1631.0 1853.0 1632.6 1848.6 1632.1C1844.3 1631.7 1839.0 1627.1 1834.1 1626.3C1829.3 1625.6 1823.5 1626.7 1819.6 1627.8C1815.7 1628.9 1812.1 1631.0 1810.9 1632.9C1809.7 1634.7 1810.9 1638.7 1812.4 1638.7Z" fill="#BAD2EE"/>
<path d="M1858.8 1587.9C1860.5 1585.7 1867.0 1583.3 1868.9 1585.0C1870.9 1586.7 1871.4 1593.9 1870.4 1598.0C1869.4 1602.1 1864.6 1605.8 1863.1 1609.6C1861.7 1613.5 1864.1 1618.8 1861.7 1621.3C1859.3 1623.7 1851.3 1624.6 1848.6 1624.2C1846.0 1623.7 1844.3 1621.0 1845.7 1618.4C1847.2 1615.7 1855.2 1611.6 1857.3 1608.2C1859.5 1604.8 1858.5 1601.4 1858.8 1598.0C1859.0 1594.7 1857.1 1590.1 1858.8 1587.9Z" fill="#BAD2EE"/>
<path d="M1863.1 1540.0C1863.4 1535.2 1868.0 1536.4 1870.4 1540.0C1872.8 1543.6 1875.5 1554.5 1877.6 1561.8C1879.8 1569.0 1881.4 1577.5 1883.4 1583.5C1885.5 1589.6 1889.5 1593.7 1890.0 1598.0C1890.5 1602.4 1888.4 1609.6 1886.3 1609.6C1884.3 1609.6 1880.5 1604.8 1877.6 1598.0C1874.7 1591.3 1871.4 1578.7 1868.9 1569.0C1866.5 1559.3 1862.9 1544.8 1863.1 1540.0Z" fill="#BAD2EE"/>
<path d="M1752.9 1692.4C1755.5 1691.1 1759.6 1696.5 1761.6 1699.6C1763.5 1702.7 1765.4 1706.9 1764.5 1711.2C1763.5 1715.6 1758.9 1722.8 1755.8 1725.7C1752.6 1728.6 1748.0 1725.7 1745.6 1728.6C1743.2 1731.5 1742.7 1737.8 1741.3 1743.1C1739.8 1748.5 1738.8 1754.7 1736.9 1760.5C1735.0 1766.3 1732.3 1771.4 1729.6 1778.0C1727.0 1784.5 1723.2 1796.3 1720.9 1800.0C1718.6 1803.7 1715.1 1804.7 1715.9 1800.0C1716.6 1795.4 1722.5 1781.1 1725.3 1772.2C1728.1 1763.2 1730.4 1753.8 1732.5 1746.0C1734.7 1738.3 1736.2 1732.3 1738.4 1725.7C1740.5 1719.2 1743.2 1712.4 1745.6 1706.9C1748.0 1701.3 1750.2 1693.6 1752.9 1692.4Z" fill="#BAD2EE"/>
<path d="M1616.1 1729.2C1618.0 1727.3 1619.5 1725.5 1623.3 1727.1C1627.2 1728.6 1634.7 1736.5 1639.3 1738.7C1643.9 1740.8 1649.0 1736.5 1650.9 1740.1C1652.8 1743.7 1652.8 1756.3 1650.9 1760.4C1649.0 1764.5 1642.7 1762.1 1639.3 1764.8C1635.9 1767.4 1634.0 1774.0 1630.6 1776.4C1627.2 1778.8 1621.6 1780.7 1619.0 1779.3C1616.3 1777.8 1617.0 1771.1 1614.6 1767.7C1612.2 1764.3 1606.3 1761.9 1604.5 1759.0C1602.7 1756.1 1602.5 1753.7 1603.7 1750.3C1605.0 1746.9 1609.7 1742.2 1611.7 1738.7C1613.8 1735.2 1614.1 1731.2 1616.1 1729.2Z" fill="#BAD2EE"/>
<path d="M1425.6 1954.3C1428.0 1952.0 1437.0 1950.7 1441.6 1950.7C1446.2 1950.7 1449.3 1953.9 1453.2 1954.3C1457.0 1954.7 1461.9 1951.9 1464.8 1952.9C1467.7 1953.8 1471.3 1957.5 1470.6 1960.1C1469.9 1962.8 1462.8 1965.7 1460.4 1968.8C1458.0 1972.0 1458.3 1976.6 1456.1 1979.0C1453.9 1981.4 1450.3 1983.1 1447.4 1983.3C1444.5 1983.6 1441.3 1981.9 1438.7 1980.4C1436.0 1979.0 1433.3 1977.3 1431.4 1974.6C1429.5 1972.0 1428.0 1967.9 1427.1 1964.5C1426.1 1961.1 1423.2 1956.6 1425.6 1954.3Z" fill="#BAD2EE"/>
<path d="M1445.3 2207.7C1446.4 2206.1 1450.3 2204.5 1452.5 2204.8C1454.8 2205.0 1458.2 2207.4 1459.1 2209.1C1459.9 2210.8 1459.0 2213.6 1457.6 2214.9C1456.3 2216.3 1453.0 2217.2 1451.1 2217.1C1449.2 2217.0 1447.0 2215.8 1446.0 2214.2C1445.1 2212.6 1444.2 2209.3 1445.3 2207.7Z" fill="#BAD2EE"/>
<path d="M1483.0 2194.6C1485.0 2191.2 1492.0 2188.1 1496.1 2185.9C1500.2 2183.7 1505.0 2180.1 1507.7 2181.6C1510.3 2183.0 1511.8 2189.8 1512.0 2194.6C1512.3 2199.5 1509.3 2205.5 1509.1 2210.6C1509.0 2215.7 1510.6 2221.6 1511.3 2225.1C1512.0 2228.6 1513.6 2228.2 1513.5 2231.6C1513.4 2235.0 1511.9 2240.7 1510.6 2245.4C1509.3 2250.1 1507.1 2255.6 1505.5 2259.9C1503.9 2264.3 1503.0 2267.9 1501.2 2271.5C1499.3 2275.2 1496.4 2278.8 1494.6 2281.7C1492.8 2284.6 1490.8 2286.3 1490.3 2288.9C1489.8 2291.6 1491.7 2294.3 1491.7 2297.6C1491.7 2301.0 1492.0 2304.4 1490.3 2309.3C1488.6 2314.1 1484.5 2322.8 1481.6 2326.7C1478.7 2330.5 1477.2 2330.2 1472.9 2332.5C1468.5 2334.7 1462.6 2338.8 1455.4 2340.0C1448.3 2341.3 1434.4 2343.2 1430.1 2340.0C1425.7 2336.8 1428.0 2326.2 1429.3 2320.9C1430.7 2315.5 1436.1 2311.7 1438.0 2307.8C1440.0 2303.9 1439.0 2300.8 1440.9 2297.6C1442.9 2294.5 1447.7 2292.1 1449.6 2288.9C1451.6 2285.8 1451.1 2282.4 1452.5 2278.8C1454.0 2275.2 1456.9 2270.8 1458.4 2267.2C1459.8 2263.5 1461.3 2260.2 1461.3 2257.0C1461.3 2253.9 1457.4 2250.5 1458.4 2248.3C1459.3 2246.1 1464.6 2245.7 1467.1 2244.0C1469.5 2242.3 1472.6 2240.3 1472.9 2238.2C1473.1 2236.0 1468.3 2234.0 1468.5 2230.9C1468.8 2227.8 1471.7 2223.4 1474.3 2219.3C1477.0 2215.2 1483.0 2210.3 1484.5 2206.2C1485.9 2202.1 1481.1 2198.0 1483.0 2194.6Z" fill="#BAD2EE"/>
<path d="M1526.5 2204.8C1527.3 2203.6 1531.6 2208.9 1533.8 2210.6C1536.0 2212.3 1538.2 2215.2 1539.6 2214.9C1541.1 2214.7 1541.3 2209.9 1542.5 2209.1C1543.7 2208.4 1545.9 2209.6 1546.9 2210.6C1547.8 2211.6 1547.1 2214.0 1548.3 2214.9C1549.5 2215.9 1554.4 2215.4 1554.1 2216.4C1553.9 2217.4 1549.5 2219.5 1546.9 2220.7C1544.2 2222.0 1540.3 2222.9 1538.2 2223.6C1536.0 2224.4 1535.3 2226.1 1533.8 2225.1C1532.4 2224.1 1530.7 2221.2 1529.4 2217.8C1528.2 2214.5 1525.8 2206.0 1526.5 2204.8Z" fill="#BAD2EE"/>
<path d="M1752.5 1919.3C1750.1 1918.8 1763.4 1927.5 1767.1 1930.9C1770.7 1934.3 1773.3 1934.5 1774.3 1939.6C1775.3 1944.7 1774.6 1955.3 1772.9 1961.4C1771.2 1967.4 1768.8 1971.8 1764.2 1975.9C1759.6 1980.0 1752.1 1982.4 1745.3 1986.0C1738.5 1989.7 1730.8 1993.3 1723.5 1997.6C1716.3 2002.0 1709.0 2006.8 1701.8 2012.2C1694.5 2017.5 1683.6 2024.9 1680.0 2029.6C1676.4 2034.2 1677.6 2038.3 1680.0 2040.0C1682.4 2041.8 1688.5 2043.4 1694.5 2040.0C1700.6 2036.6 1708.5 2025.5 1716.3 2019.4C1724.0 2013.3 1732.5 2008.5 1740.9 2003.4C1749.4 1998.4 1758.8 1994.0 1767.1 1988.9C1775.3 1983.9 1783.5 1979.3 1790.3 1973.0C1797.0 1966.7 1802.8 1956.8 1807.7 1951.2C1812.5 1945.7 1814.0 1942.5 1819.3 1939.6C1824.6 1936.7 1834.3 1937.2 1839.6 1933.8C1844.9 1930.4 1849.8 1923.2 1851.2 1919.3C1852.7 1915.4 1850.2 1909.6 1848.3 1910.6C1846.4 1911.6 1843.5 1920.7 1839.6 1925.1C1835.7 1929.4 1829.9 1935.3 1825.1 1936.7C1820.3 1938.2 1817.8 1934.3 1810.6 1933.8C1803.3 1933.3 1791.2 1936.2 1781.6 1933.8C1771.9 1931.4 1755.0 1919.8 1752.5 1919.3Z" fill="#BAD2EE"/>
<path d="M1768.6 1365.8C1770.2 1370.2 1773.8 1383.7 1778.0 1391.9C1782.3 1400.1 1788.4 1408.4 1794.0 1415.1C1799.6 1421.9 1805.8 1427.7 1811.4 1432.5C1817.0 1437.4 1822.5 1441.7 1827.4 1444.2C1832.2 1446.6 1838.3 1446.6 1840.4 1447.1" fill="none" stroke="#BAD2EE" stroke-width="19.0" stroke-linecap="round" stroke-linejoin="round"/>
<path d="M1833.2 1465.9C1833.1 1470.0 1832.9 1482.8 1832.4 1490.6C1832.0 1498.3 1831.2 1505.1 1830.3 1512.4C1829.3 1519.6 1828.1 1526.9 1826.6 1534.1C1825.2 1541.4 1823.4 1548.6 1821.6 1555.9C1819.8 1563.1 1818.4 1571.1 1815.8 1577.6C1813.1 1584.2 1808.8 1590.2 1805.6 1595.1C1802.5 1599.9 1798.4 1604.7 1796.9 1606.7" fill="none" stroke="#BAD2EE" stroke-width="21.0" stroke-linecap="round" stroke-linejoin="round"/>
<path d="M1797.8 1603.8C1795.4 1605.3 1788.3 1608.7 1783.3 1612.5C1778.4 1616.4 1774.1 1621.9 1768.1 1627.1C1762.1 1632.3 1753.3 1638.4 1747.1 1643.7C1740.8 1649.1 1734.4 1653.9 1730.4 1659.0C1726.4 1664.1 1725.2 1668.0 1723.1 1674.2C1721.1 1680.4 1719.0 1689.6 1718.0 1696.0C1717.1 1702.4 1717.4 1709.9 1717.3 1712.7" fill="none" stroke="#BAD2EE" stroke-width="14.5" stroke-linecap="round" stroke-linejoin="round"/>
<path d="M1761.6 1699.6C1763.3 1697.2 1768.6 1689.9 1771.7 1685.1C1774.9 1680.3 1779.0 1673.0 1780.4 1670.6" fill="none" stroke="#BAD2EE" stroke-width="7.0" stroke-linecap="round" stroke-linejoin="round"/>
<path d="M1906.7 1540.0C1906.8 1547.3 1907.1 1569.0 1907.4 1583.5C1907.6 1598.0 1908.5 1615.0 1908.1 1627.1C1907.8 1639.1 1906.3 1647.6 1905.2 1656.1C1904.1 1664.5 1902.6 1670.6 1901.6 1677.8C1900.6 1685.1 1899.8 1693.6 1899.4 1699.6C1899.0 1705.7 1900.6 1709.6 1899.4 1714.1C1898.2 1718.6 1895.3 1723.4 1892.2 1726.4C1889.0 1729.5 1882.5 1731.3 1880.5 1732.3" fill="none" stroke="#BAD2EE" stroke-width="13.0" stroke-linecap="round" stroke-linejoin="round"/>
<path d="M1877.6 1740.2C1879.1 1741.9 1882.7 1747.0 1886.3 1750.4C1890.0 1753.8 1895.5 1756.9 1899.4 1760.5C1903.3 1764.2 1906.9 1767.8 1909.6 1772.2C1912.2 1776.5 1913.6 1782.0 1915.4 1786.7C1917.1 1791.3 1919.2 1797.8 1920.0 1800.0" fill="none" stroke="#BAD2EE" stroke-width="9.0" stroke-linecap="round" stroke-linejoin="round"/>
<path d="M1717.3 1712.7L1707.9 1728.6" fill="none" stroke="#BAD2EE" stroke-width="16.0" stroke-linecap="round" stroke-linejoin="round"/>
<path d="M1726.3 1721.3C1723.7 1723.4 1716.7 1730.4 1710.4 1734.3C1704.1 1738.2 1695.9 1741.8 1688.6 1744.5C1681.4 1747.1 1674.1 1749.2 1666.9 1750.3C1659.6 1751.4 1651.1 1751.4 1645.1 1751.0C1639.1 1750.6 1633.0 1748.6 1630.6 1748.1" fill="none" stroke="#BAD2EE" stroke-width="20.0" stroke-linecap="round" stroke-linejoin="round"/>
<path d="M1623.3 1770.6C1622.1 1774.2 1619.7 1785.6 1616.1 1792.4C1612.4 1799.1 1606.4 1805.4 1601.6 1811.2C1596.7 1817.0 1590.9 1821.4 1587.1 1827.2C1583.2 1833.0 1582.5 1839.5 1578.4 1846.0C1574.2 1852.6 1568.2 1860.1 1562.4 1866.3C1556.6 1872.6 1549.1 1878.2 1543.5 1883.8C1538.0 1889.4 1531.4 1897.3 1529.0 1900.0" fill="none" stroke="#BAD2EE" stroke-width="14.0" stroke-linecap="round" stroke-linejoin="round"/>
<path d="M1578.0 1860.0C1576.0 1861.7 1570.7 1866.5 1566.3 1870.2C1562.0 1873.8 1556.2 1877.7 1551.8 1881.8C1547.5 1885.9 1545.3 1891.2 1540.2 1894.8C1535.2 1898.5 1527.4 1900.6 1521.4 1903.5C1515.3 1906.4 1508.1 1908.8 1504.0 1912.2C1499.8 1915.6 1499.4 1919.7 1496.7 1923.8C1494.0 1928.0 1491.1 1933.0 1488.0 1936.9C1484.9 1940.8 1482.0 1943.9 1477.8 1947.1C1473.7 1950.2 1467.9 1953.6 1463.3 1955.8C1458.7 1957.9 1454.1 1959.1 1450.3 1960.1C1446.4 1961.1 1441.8 1961.3 1440.1 1961.6" fill="none" stroke="#BAD2EE" stroke-width="14.5" stroke-linecap="round" stroke-linejoin="round"/>
<path d="M1444.5 1976.1C1446.2 1978.5 1451.5 1985.7 1454.6 1990.6C1457.8 1995.4 1461.3 2000.3 1463.3 2005.1C1465.4 2009.9 1466.3 2014.8 1467.0 2019.6C1467.6 2024.4 1467.8 2029.8 1467.4 2034.1C1467.0 2038.5 1466.7 2042.6 1464.8 2045.7C1462.9 2048.9 1457.5 2051.8 1456.1 2053.0" fill="none" stroke="#BAD2EE" stroke-width="12.5" stroke-linecap="round" stroke-linejoin="round"/>
<path d="M1397.3 2029.0C1399.4 2030.2 1405.2 2033.3 1409.6 2036.3C1414.1 2039.3 1419.1 2044.0 1424.2 2047.2C1429.2 2050.3 1435.0 2053.9 1440.1 2055.2C1445.2 2056.4 1452.2 2054.5 1454.6 2054.4" fill="none" stroke="#BAD2EE" stroke-width="15.0" stroke-linecap="round" stroke-linejoin="round"/>
<path d="M1457.5 2061.7L1456.1 2066.0" fill="none" stroke="#BAD2EE" stroke-width="7.0" stroke-linecap="round" stroke-linejoin="round"/>
<path d="M1398.0 2032.7C1399.0 2035.3 1400.9 2043.1 1403.8 2048.6C1406.7 2054.2 1411.8 2060.7 1415.4 2066.0C1419.1 2071.4 1423.7 2075.7 1425.6 2080.5C1427.5 2085.4 1425.8 2090.2 1427.1 2095.1C1428.3 2099.9 1430.7 2105.4 1432.9 2109.6C1435.0 2113.7 1438.9 2118.3 1440.1 2120.0" fill="none" stroke="#BAD2EE" stroke-width="15.0" stroke-linecap="round" stroke-linejoin="round"/>
<path d="M1427.9 2071.3C1428.2 2073.7 1428.9 2080.7 1430.1 2085.8C1431.2 2090.9 1433.1 2095.5 1434.8 2101.8C1436.6 2108.1 1439.6 2116.3 1440.7 2123.5C1441.7 2130.8 1441.3 2138.0 1440.9 2145.3C1440.6 2152.5 1438.8 2161.3 1438.3 2167.1C1437.8 2172.9 1438.1 2177.9 1438.0 2180.1" fill="none" stroke="#BAD2EE" stroke-width="21.0" stroke-linecap="round" stroke-linejoin="round"/>
<path d="M1438.0 2180.1C1439.0 2182.8 1441.9 2191.5 1443.8 2196.1C1445.8 2200.7 1448.7 2205.7 1449.6 2207.7" fill="none" stroke="#BAD2EE" stroke-width="13.0" stroke-linecap="round" stroke-linejoin="round"/>
<path d="M1452.5 2203.3C1454.0 2201.2 1458.4 2193.7 1461.3 2190.3C1464.2 2186.9 1466.6 2185.3 1470.0 2183.0C1473.3 2180.7 1477.2 2178.8 1481.6 2176.5C1485.9 2174.2 1492.0 2171.5 1496.1 2169.2C1500.2 2166.9 1504.5 2163.8 1506.2 2162.7" fill="none" stroke="#BAD2EE" stroke-width="14.5" stroke-linecap="round" stroke-linejoin="round"/>
<path d="M1573.7 2190.3C1573.8 2192.4 1576.0 2199.2 1574.4 2203.3C1572.9 2207.4 1568.4 2210.9 1564.3 2214.9C1560.2 2218.9 1554.5 2222.9 1549.8 2227.3C1545.0 2231.6 1539.8 2236.3 1536.0 2241.1C1532.1 2245.8 1529.7 2250.5 1526.5 2255.6C1523.4 2260.6 1520.5 2266.7 1517.1 2271.5C1513.7 2276.4 1509.7 2280.7 1506.2 2284.6C1502.7 2288.5 1499.2 2290.9 1496.1 2294.7C1492.9 2298.6 1489.8 2303.4 1487.4 2307.8C1485.0 2312.2 1482.5 2318.7 1481.6 2320.9" fill="none" stroke="#BAD2EE" stroke-width="15.0" stroke-linecap="round" stroke-linejoin="round"/>
<path d="M1577.3 2181.6C1578.4 2180.4 1580.5 2175.6 1583.9 2174.3C1587.2 2173.0 1594.0 2172.7 1597.6 2173.6C1601.3 2174.4 1604.8 2177.3 1605.6 2179.4C1606.5 2181.4 1605.3 2184.2 1602.7 2185.9C1600.2 2187.7 1594.3 2189.6 1590.4 2190.0C1586.5 2190.3 1581.3 2188.4 1579.5 2188.1" fill="none" stroke="#BAD2EE" stroke-width="7.0" stroke-linecap="round" stroke-linejoin="round"/>
<path d="M1640.0 2154.0C1638.3 2155.7 1633.0 2160.5 1629.6 2164.2C1626.1 2167.8 1622.3 2171.8 1619.4 2175.8C1616.5 2179.8 1614.3 2185.3 1612.2 2188.1C1610.0 2190.9 1607.3 2191.7 1606.3 2192.4" fill="none" stroke="#BAD2EE" stroke-width="12.0" stroke-linecap="round" stroke-linejoin="round"/>
<path d="M1632.5 2170.0C1631.3 2171.9 1627.6 2177.9 1625.2 2181.6C1622.8 2185.2 1619.2 2190.0 1618.0 2191.7" fill="none" stroke="#BAD2EE" stroke-width="8.0" stroke-linecap="round" stroke-linejoin="round"/>
<path d="M1524.4 2165.6C1523.9 2167.3 1522.3 2172.6 1521.5 2175.8C1520.6 2178.9 1519.7 2183.0 1519.3 2184.5" fill="none" stroke="#BAD2EE" stroke-width="6.0" stroke-linecap="round" stroke-linejoin="round"/>
<path d="M1525.1 2181.6C1524.9 2183.5 1523.4 2190.3 1523.6 2193.2C1523.9 2196.1 1526.1 2198.0 1526.5 2199.0" fill="none" stroke="#BAD2EE" stroke-width="4.0" stroke-linecap="round" stroke-linejoin="round"/>
<path d="M1532.4 2174.3L1530.9 2187.4" fill="none" stroke="#BAD2EE" stroke-width="3.0" stroke-linecap="round" stroke-linejoin="round"/>
<path d="M1538.2 2190.3L1537.4 2203.3" fill="none" stroke="#BAD2EE" stroke-width="4.0" stroke-linecap="round" stroke-linejoin="round"/>
<path d="M1578.1 2094.5L1584.6 2093.8" fill="none" stroke="#BAD2EE" stroke-width="6.0" stroke-linecap="round" stroke-linejoin="round"/>
<path d="M1613.6 2094.5L1629.6 2095.2" fill="none" stroke="#BAD2EE" stroke-width="4.5" stroke-linecap="round" stroke-linejoin="round"/>
<path d="M1723.5 1827.9C1721.8 1830.1 1712.6 1835.9 1713.4 1840.9C1714.1 1846.0 1723.3 1853.0 1727.9 1858.4C1732.5 1863.7 1738.3 1866.6 1740.9 1872.9C1743.6 1879.1 1743.1 1888.6 1743.8 1896.1C1744.6 1903.6 1745.1 1914.2 1745.3 1917.8" fill="none" stroke="#BAD2EE" stroke-width="6.0" stroke-linecap="round" stroke-linejoin="round"/>
<path d="M1865.7 1809.0C1865.5 1812.2 1866.7 1822.6 1864.3 1827.9C1861.9 1833.2 1854.1 1835.4 1851.2 1840.9C1848.3 1846.5 1847.7 1854.5 1846.9 1861.3C1846.0 1868.0 1845.9 1874.6 1846.1 1881.6C1846.4 1888.6 1847.5 1897.5 1848.3 1903.3C1849.2 1909.1 1850.7 1914.2 1851.2 1916.4" fill="none" stroke="#BAD2EE" stroke-width="7.0" stroke-linecap="round" stroke-linejoin="round"/>
<path d="M1888.9 1788.7C1889.9 1792.1 1893.3 1799.6 1894.7 1809.0C1896.2 1818.5 1898.6 1834.4 1897.6 1845.3C1896.7 1856.2 1893.8 1863.4 1888.9 1874.3C1884.1 1885.2 1873.2 1902.1 1868.6 1910.6C1864.0 1919.1 1862.6 1922.7 1861.4 1925.1" fill="none" stroke="#BAD2EE" stroke-width="3.5" stroke-linecap="round" stroke-linejoin="round"/>
<path d="M1873.0 1798.9C1872.3 1801.8 1869.6 1811.4 1868.6 1816.3C1867.7 1821.1 1867.4 1825.9 1867.2 1827.9" fill="none" stroke="#BAD2EE" stroke-width="4.0" stroke-linecap="round" stroke-linejoin="round"/>
<path d="M1745.3 2006.3C1748.0 2005.4 1755.7 2001.0 1761.3 2000.5C1766.8 2000.1 1776.2 2000.5 1778.7 2003.4C1781.1 2006.3 1777.2 2012.6 1775.8 2018.0C1774.3 2023.3 1768.5 2032.0 1770.0 2035.4C1771.4 2038.8 1780.1 2039.7 1784.5 2038.3C1788.8 2036.8 1792.2 2032.0 1796.1 2026.7C1799.9 2021.3 1805.7 2009.7 1807.7 2006.3" fill="none" stroke="#BAD2EE" stroke-width="7.0" stroke-linecap="round" stroke-linejoin="round"/>
<path d="M1704.7 1939.6C1706.1 1938.2 1709.5 1933.1 1713.4 1930.9C1717.2 1928.7 1723.3 1928.5 1727.9 1926.5C1732.5 1924.6 1738.8 1920.5 1740.9 1919.3" fill="none" stroke="#BAD2EE" stroke-width="6.0" stroke-linecap="round" stroke-linejoin="round"/>
<path d="M1761.3 1951.2L1758.4 1968.6" fill="none" stroke="#BAD2EE" stroke-width="6.0" stroke-linecap="round" stroke-linejoin="round"/>
<path d="M1684.7 2021.8C1683.8 2025.2 1681.3 2035.5 1679.6 2042.3C1677.9 2049.2 1675.7 2057.3 1674.4 2062.9C1673.2 2068.4 1672.3 2073.6 1671.9 2075.7" fill="none" stroke="#BAD2EE" stroke-width="8.0" stroke-linecap="round" stroke-linejoin="round"/>
<path d="M1677.0 2096.2L1682.1 2103.9" fill="none" stroke="#BAD2EE" stroke-width="12.0" stroke-linecap="round" stroke-linejoin="round"/>
<path d="M1689.8 2111.6L1684.7 2127.0" fill="none" stroke="#BAD2EE" stroke-width="8.0" stroke-linecap="round" stroke-linejoin="round"/>
<path d="M1680.8 2047.3C1680.3 2049.6 1678.6 2056.0 1677.5 2060.7C1676.3 2065.5 1674.7 2073.3 1674.1 2075.8" fill="none" stroke="#BAD2EE" stroke-width="9.0" stroke-linecap="round" stroke-linejoin="round"/>
<path d="M1679.1 2097.6L1677.5 2102.6" fill="none" stroke="#BAD2EE" stroke-width="9.0" stroke-linecap="round" stroke-linejoin="round"/>
<path d="M1690.9 2110.9L1684.2 2126.0" fill="none" stroke="#BAD2EE" stroke-width="8.0" stroke-linecap="round" stroke-linejoin="round"/>
<path d="M1610.5 2095.0L1627.2 2096.7" fill="none" stroke="#BAD2EE" stroke-width="7.0" stroke-linecap="round" stroke-linejoin="round"/>
<path d="M1582.0 2095.0L1580.4 2098.4" fill="none" stroke="#BAD2EE" stroke-width="7.0" stroke-linecap="round" stroke-linejoin="round"/>
<path d="M1587.1 2075.8L1593.8 2077.5" fill="none" stroke="#BAD2EE" stroke-width="9.0" stroke-linecap="round" stroke-linejoin="round"/>
<path d="M1642.3 2151.1C1640.9 2153.1 1636.4 2158.9 1633.9 2162.8C1631.4 2166.8 1628.9 2171.2 1627.2 2174.6C1625.6 2177.9 1624.4 2181.5 1623.9 2182.9" fill="none" stroke="#BAD2EE" stroke-width="9.0" stroke-linecap="round" stroke-linejoin="round"/>
<path d="M1506.7 2161.2C1506.1 2163.4 1504.2 2170.1 1503.3 2174.6C1502.5 2179.0 1502.0 2185.7 1501.7 2188.0" fill="none" stroke="#BAD2EE" stroke-width="10.0" stroke-linecap="round" stroke-linejoin="round"/>
<path d="M1553.6 2030.6L1552.7 2039.0" fill="none" stroke="#BAD2EE" stroke-width="5.0" stroke-linecap="round" stroke-linejoin="round"/>
<path d="M1314.7 2443.1L1318.3 2448.3" fill="none" stroke="#BAD2EE" stroke-width="5.0" stroke-linecap="round" stroke-linejoin="round"/>
<path d="M1439.4 2302.1C1437.8 2304.7 1431.7 2312.5 1429.3 2318.0C1426.9 2323.6 1425.3 2329.9 1424.9 2335.4C1424.6 2341.0 1425.9 2347.3 1427.1 2351.4C1428.3 2355.5 1431.3 2358.7 1432.2 2360.1" fill="none" stroke="#BAD2EE" stroke-width="6.0" stroke-linecap="round" stroke-linejoin="round"/>
<path d="M1872.4 1513.8L1879.6 1516.0L1885.4 1521.1L1886.1 1531.2L1892.7 1534.1L1894.1 1541.4L1899.4 1544.4L1900.9 1551.6L1892.2 1561.8L1898.0 1569.0L1897.2 1583.5L1899.4 1598.0L1902.3 1612.5L1903.8 1627.1L1900.9 1641.6L1899.4 1653.2L1893.6 1660.4L1898.0 1667.7L1895.1 1676.4L1889.3 1681.5L1890.7 1692.4L1893.6 1704.0L1892.9 1714.1L1883.4 1722.8L1877.6 1727.2L1873.3 1733.0L1867.5 1735.9L1871.8 1744.6L1874.7 1753.3L1882.0 1757.6L1889.3 1762.0L1895.8 1768.5L1887.5 1780.0L1880.2 1788.7L1873.0 1796.0L1867.2 1803.2L1861.4 1810.5L1859.9 1822.1L1861.4 1829.3L1852.7 1835.1L1845.4 1842.4L1842.5 1849.6L1841.8 1864.2L1841.1 1880.1L1836.7 1884.5L1839.6 1893.2L1844.0 1903.3L1846.9 1914.9L1845.4 1919.3L1839.6 1923.6L1838.9 1930.9L1833.8 1933.8L1828.0 1932.4L1825.1 1926.5L1826.5 1916.4L1822.2 1912.8L1813.5 1913.5L1810.6 1917.8L1812.8 1925.1L1809.1 1930.9L1800.4 1931.6L1790.3 1933.8L1780.1 1931.6L1777.2 1932.4L1780.1 1939.6L1784.5 1948.3L1790.3 1950.5L1796.1 1954.1L1790.3 1955.6L1781.6 1953.4L1778.7 1957.7L1776.5 1954.1L1780.1 1949.8L1778.7 1942.5L1774.3 1935.3L1767.1 1929.4L1758.4 1923.6L1752.5 1917.8L1750.4 1910.6L1749.6 1896.1L1748.2 1881.6L1746.7 1872.9L1751.1 1865.6L1745.3 1862.7L1740.9 1858.4L1735.1 1858.4L1730.8 1851.1L1722.1 1845.3L1717.0 1842.4L1721.4 1833.7L1717.7 1829.3L1707.6 1830.1L1703.9 1826.4L1711.9 1822.1L1717.7 1816.3L1718.5 1807.6L1717.0 1803.2L1723.5 1801.8L1727.9 1788.7L1723.8 1792.5L1720.9 1785.2L1723.8 1778.0L1736.9 1775.1L1741.3 1767.8L1745.6 1759.1L1741.3 1754.7L1742.7 1746.0L1745.6 1738.8L1747.1 1730.1L1752.9 1728.6L1760.1 1728.6L1761.6 1721.4L1766.6 1714.1L1767.4 1705.4L1770.3 1702.5L1776.1 1708.3L1781.9 1704.0L1786.2 1689.4L1787.0 1674.9L1787.7 1664.8L1790.6 1660.4L1800.7 1663.3L1808.0 1659.0L1813.8 1653.2L1816.7 1647.4L1826.9 1640.1L1832.7 1637.2L1838.5 1640.1L1845.7 1643.0L1853.0 1644.5L1860.2 1641.6L1867.5 1635.8L1874.7 1627.1L1880.5 1618.4L1884.2 1612.5L1889.3 1611.1L1892.2 1603.8L1892.2 1595.1L1889.3 1587.9L1882.0 1582.1L1886.3 1577.7L1883.4 1573.4L1887.8 1566.1L1882.0 1561.8L1877.6 1556.0L1874.7 1547.3L1870.4 1540.0L1870.9 1538.5L1866.5 1531.9L1861.5 1534.1L1863.6 1525.4L1866.5 1518.2Z" fill="#8DC21F" stroke="#8DC21F" stroke-width="1" stroke-linejoin="round"/>
<path d="M1741.3 1762.7C1742.5 1763.3 1745.1 1764.8 1748.5 1766.3C1751.9 1767.9 1757.9 1770.5 1761.6 1772.2C1765.2 1773.8 1769.1 1774.0 1770.3 1776.2C1771.4 1778.4 1770.0 1782.5 1768.5 1785.2C1767.1 1787.9 1762.7 1791.3 1761.6 1792.5" fill="none" stroke="#BAD2EE" stroke-width="6.0" stroke-linecap="round" stroke-linejoin="round"/>
<path d="M1732.5 1757.6L1735.4 1756.9L1736.2 1759.8L1733.3 1760.5Z" fill="#8DC21F"/>
<path d="M1739.1 1761.3L1741.3 1761.7L1741.0 1764.9L1738.6 1764.6Z" fill="#8DC21F"/>
<path d="M1871.3 1483.8L1876.4 1484.5L1877.9 1490.3L1879.6 1496.4L1875.5 1494.6L1873.2 1489.4Z" fill="#8DC21F" stroke="#8DC21F" stroke-width="0.8"/>
<path d="M1878.2 1501.5L1879.8 1500.7L1880.0 1505.1L1878.4 1504.4Z" fill="#8DC21F"/>
<path d="M1872.1 1731.8L1875.5 1731.2L1875.9 1734.4L1873.0 1735.3Z" fill="#8DC21F"/>
<path d="M1812.8 1929.4C1813.2 1930.3 1814.6 1933.0 1815.7 1934.5C1816.8 1936.1 1818.7 1938.2 1819.3 1938.9" fill="none" stroke="#8DC21F" stroke-width="1.6" stroke-linecap="round" stroke-linejoin="round"/>
<ellipse cx="1795.4" cy="1941.8" rx="1.3" ry="1" fill="#8DC21F"/>
<ellipse cx="1798.3" cy="1944.7" rx="1.3" ry="1" fill="#8DC21F"/>
<ellipse cx="1801.9" cy="1943.7" rx="1.3" ry="1" fill="#8DC21F"/>
<ellipse cx="1805.5" cy="1944.7" rx="1.3" ry="1" fill="#8DC21F"/>
<path d="M1680.0 1922.9L1688.7 1925.1L1697.4 1928.0L1703.9 1930.9L1703.2 1936.0L1694.5 1933.8L1691.6 1939.6L1685.8 1939.6L1680.0 1936.7Z" fill="#8DC21F"/>
<path d="M1703.9 1939.6L1716.3 1938.2L1723.5 1933.8L1735.1 1929.4L1749.6 1930.9L1751.1 1939.6L1748.2 1946.9L1752.5 1954.1L1759.1 1962.8L1755.4 1970.1L1748.2 1974.4L1743.8 1967.2L1748.2 1958.5L1743.8 1951.2L1735.1 1946.9L1723.5 1948.3L1717.7 1957.0L1709.0 1946.9Z" fill="#8DC21F"/>
<path d="M1713.4 1977.3L1720.6 1974.4L1730.8 1975.9L1739.5 1980.2L1738.0 1986.0L1727.9 1990.4L1717.7 1991.1L1711.9 1986.0Z" fill="#8DC21F"/>
<path d="M1680.0 1944.0C1681.9 1944.2 1688.0 1944.4 1691.6 1945.4C1695.2 1946.4 1698.6 1947.1 1701.8 1949.8C1704.9 1952.4 1708.3 1957.1 1710.5 1961.4C1712.6 1965.6 1714.1 1972.9 1714.8 1975.2" fill="none" stroke="#8DC21F" stroke-width="1.9" stroke-linecap="round" stroke-linejoin="round"/>
<path d="M1711.2 1951.2C1712.2 1953.1 1715.5 1959.0 1717.0 1962.8C1718.5 1966.7 1719.4 1972.5 1719.9 1974.4" fill="none" stroke="#8DC21F" stroke-width="3.5" stroke-linecap="round" stroke-linejoin="round"/>
<path d="M1686.5 1952.7L1693.8 1949.8L1695.2 1956.3L1688.7 1959.9Z" fill="#8DC21F"/>
<path d="M1680.0 1975.9L1685.8 1978.8L1687.3 1987.5L1682.9 1994.7L1680.0 1994.7Z" fill="#8DC21F"/>
<path d="M1739.5 1925.1L1749.6 1917.1" fill="none" stroke="#8DC21F" stroke-width="0.8" stroke-linecap="round" stroke-linejoin="round"/>
<ellipse cx="1726.9" cy="1962.7" rx="0.8" ry="1.0" fill="#8DC21F"/>
<ellipse cx="1734.8" cy="1952.0" rx="0.5" ry="1.2" fill="#8DC21F"/>
<ellipse cx="1727.3" cy="1955.8" rx="1.3" ry="0.9" fill="#8DC21F"/>
<ellipse cx="1739.1" cy="1961.2" rx="1.0" ry="0.6" fill="#8DC21F"/>
<ellipse cx="1735.0" cy="1970.0" rx="0.9" ry="1.1" fill="#8DC21F"/>
<ellipse cx="1735.7" cy="1951.9" rx="1.1" ry="1.0" fill="#8DC21F"/>
<ellipse cx="1728.2" cy="1951.2" rx="1.2" ry="0.9" fill="#8DC21F"/>
<ellipse cx="1736.7" cy="1970.3" rx="1.1" ry="1.2" fill="#8DC21F"/>
<ellipse cx="1730.1" cy="1968.5" rx="0.9" ry="1.2" fill="#8DC21F"/>
<ellipse cx="1739.9" cy="1952.7" rx="0.6" ry="0.7" fill="#8DC21F"/>
<ellipse cx="1741.7" cy="1960.3" rx="1.0" ry="0.7" fill="#8DC21F"/>
<ellipse cx="1732.4" cy="1959.2" rx="0.8" ry="1.0" fill="#8DC21F"/>
<ellipse cx="1733.9" cy="1970.8" rx="1.0" ry="1.2" fill="#8DC21F"/>
<ellipse cx="1739.5" cy="1972.8" rx="1.0" ry="0.6" fill="#8DC21F"/>
<ellipse cx="1739.6" cy="1972.2" rx="1.2" ry="1.0" fill="#8DC21F"/>
<ellipse cx="1736.6" cy="1955.2" rx="1.2" ry="1.0" fill="#8DC21F"/>
<ellipse cx="1727.9" cy="1951.9" rx="1.2" ry="1.3" fill="#8DC21F"/>
<ellipse cx="1723.9" cy="1968.5" rx="0.8" ry="0.6" fill="#8DC21F"/>
<ellipse cx="1728.0" cy="1967.8" rx="1.2" ry="0.5" fill="#8DC21F"/>
<ellipse cx="1734.6" cy="1951.5" rx="1.1" ry="0.8" fill="#8DC21F"/>
<ellipse cx="1740.0" cy="1972.5" rx="0.9" ry="1.3" fill="#8DC21F"/>
<ellipse cx="1728.4" cy="1952.2" rx="1.0" ry="0.5" fill="#8DC21F"/>
<ellipse cx="1726.1" cy="1959.7" rx="1.0" ry="0.6" fill="#8DC21F"/>
<ellipse cx="1722.9" cy="1970.0" rx="0.8" ry="1.3" fill="#8DC21F"/>
<ellipse cx="1740.3" cy="1959.0" rx="0.9" ry="0.9" fill="#8DC21F"/>
<ellipse cx="1735.2" cy="1963.9" rx="0.9" ry="1.0" fill="#8DC21F"/>
<ellipse cx="1741.2" cy="1961.9" rx="0.8" ry="1.1" fill="#8DC21F"/>
<ellipse cx="1726.9" cy="1957.3" rx="1.3" ry="0.9" fill="#8DC21F"/>
<ellipse cx="1733.2" cy="1950.7" rx="0.8" ry="1.0" fill="#8DC21F"/>
<ellipse cx="1722.5" cy="1964.3" rx="1.0" ry="0.5" fill="#8DC21F"/>
<ellipse cx="1734.8" cy="1961.0" rx="1.0" ry="0.8" fill="#8DC21F"/>
<ellipse cx="1736.4" cy="1967.1" rx="0.5" ry="0.5" fill="#8DC21F"/>
<ellipse cx="1735.8" cy="1972.2" rx="0.7" ry="0.9" fill="#8DC21F"/>
<ellipse cx="1734.1" cy="1957.7" rx="0.8" ry="0.8" fill="#8DC21F"/>
<ellipse cx="1719.3" cy="1987.1" rx="0.8" ry="0.8" fill="#8DC21F"/>
<ellipse cx="1718.2" cy="1984.6" rx="0.8" ry="0.8" fill="#8DC21F"/>
<ellipse cx="1725.7" cy="1980.5" rx="0.8" ry="0.8" fill="#8DC21F"/>
<ellipse cx="1722.5" cy="1988.8" rx="0.8" ry="0.8" fill="#8DC21F"/>
<ellipse cx="1718.3" cy="1982.8" rx="0.8" ry="0.8" fill="#8DC21F"/>
<ellipse cx="1726.2" cy="1983.0" rx="0.8" ry="0.8" fill="#8DC21F"/>
<ellipse cx="1716.4" cy="1985.3" rx="0.8" ry="0.8" fill="#8DC21F"/>
<ellipse cx="1724.5" cy="1981.4" rx="0.8" ry="0.8" fill="#8DC21F"/>
<ellipse cx="1718.5" cy="1984.1" rx="0.8" ry="0.8" fill="#8DC21F"/>
<ellipse cx="1726.7" cy="1985.3" rx="0.8" ry="0.8" fill="#8DC21F"/>
<ellipse cx="1727.0" cy="1982.2" rx="0.8" ry="0.8" fill="#8DC21F"/>
<ellipse cx="1718.7" cy="1987.8" rx="0.8" ry="0.8" fill="#8DC21F"/>
<ellipse cx="1727.5" cy="1985.5" rx="0.8" ry="0.8" fill="#8DC21F"/>
<ellipse cx="1717.0" cy="1981.6" rx="0.8" ry="0.8" fill="#8DC21F"/>
<path d="M1657.4 1951.9C1657.5 1953.6 1657.0 1958.9 1658.2 1961.9C1659.5 1965.0 1662.3 1967.5 1664.9 1970.3C1667.6 1973.1 1672.6 1977.3 1674.1 1978.7" fill="none" stroke="#8DC21F" stroke-width="3.0" stroke-linecap="round" stroke-linejoin="round"/>
<path d="M1674.1 1976.2C1675.2 1975.3 1680.3 1977.4 1682.5 1978.7C1684.7 1979.9 1686.4 1981.6 1687.5 1983.7C1688.6 1985.8 1690.0 1989.6 1689.2 1991.2C1688.3 1992.9 1684.3 1992.5 1682.5 1993.8C1680.7 1995.0 1679.6 1996.5 1678.3 1998.8C1677.0 2001.0 1675.7 2004.4 1675.0 2007.1C1674.3 2009.9 1673.3 2012.7 1674.1 2015.5C1675.0 2018.3 1677.7 2022.4 1680.0 2023.9C1682.2 2025.4 1685.8 2023.1 1687.5 2024.7C1689.2 2026.4 1690.0 2030.3 1690.0 2033.9C1690.0 2037.6 1688.9 2045.0 1687.5 2046.5C1686.1 2048.0 1683.6 2044.8 1681.7 2043.1C1679.7 2041.5 1677.7 2038.8 1675.8 2036.4C1673.8 2034.1 1672.4 2030.4 1669.9 2028.9C1667.4 2027.4 1663.9 2027.1 1660.7 2027.2C1657.5 2027.4 1653.3 2028.4 1650.7 2029.8C1648.0 2031.1 1646.2 2033.0 1644.8 2035.6C1643.4 2038.3 1643.8 2042.3 1642.3 2045.7C1640.8 2049.0 1637.0 2053.0 1635.6 2055.7C1634.2 2058.4 1635.1 2061.1 1633.9 2061.6C1632.8 2062.0 1630.6 2057.7 1628.9 2058.2C1627.2 2058.8 1626.1 2062.5 1623.9 2064.9C1621.7 2067.3 1618.3 2070.3 1615.5 2072.4C1612.7 2074.5 1609.9 2076.3 1607.1 2077.5C1604.4 2078.6 1601.1 2079.7 1598.8 2079.1C1596.4 2078.6 1593.8 2076.3 1592.9 2074.1C1592.1 2071.9 1592.5 2066.6 1593.8 2065.7C1595.0 2064.9 1597.9 2069.1 1600.5 2069.1C1603.0 2069.1 1606.0 2068.0 1608.8 2065.7C1611.6 2063.5 1614.1 2058.8 1617.2 2055.7C1620.3 2052.6 1624.4 2050.7 1627.2 2047.3C1630.0 2044.0 1631.7 2039.2 1633.9 2035.6C1636.2 2032.0 1637.8 2028.2 1640.6 2025.6C1643.4 2022.9 1647.1 2021.1 1650.7 2019.7C1654.3 2018.3 1659.2 2018.4 1662.4 2017.2C1665.6 2015.9 1668.5 2015.0 1669.9 2012.2C1671.3 2009.4 1670.1 2004.1 1670.8 2000.5C1671.5 1996.8 1673.3 1993.2 1674.1 1990.4C1675.0 1987.6 1675.8 1986.1 1675.8 1983.7C1675.8 1981.3 1673.0 1977.0 1674.1 1976.2Z" fill="#8DC21F"/>
<path d="M1554.4 2017.2C1555.0 2018.9 1556.2 2023.9 1557.8 2027.2C1559.3 2030.6 1561.5 2034.6 1563.6 2037.3C1565.7 2039.9 1569.2 2042.2 1570.3 2043.1" fill="none" stroke="#8DC21F" stroke-width="2.4" stroke-linecap="round" stroke-linejoin="round"/>
<path d="M1570.3 2043.1C1571.7 2044.1 1575.9 2047.2 1578.7 2049.0C1581.5 2050.8 1584.5 2051.4 1587.1 2054.0C1589.6 2056.7 1591.9 2061.8 1593.8 2064.9C1595.6 2068.0 1597.2 2071.2 1597.9 2072.4" fill="none" stroke="#8DC21F" stroke-width="4.0" stroke-linecap="round" stroke-linejoin="round"/>
<path d="M1500.0 2003.8C1500.8 2005.2 1502.8 2010.2 1505.0 2012.2C1507.3 2014.2 1509.1 2015.1 1513.4 2015.9C1517.7 2016.6 1528.0 2016.6 1531.0 2016.7" fill="none" stroke="#8DC21F" stroke-width="2.6" stroke-linecap="round" stroke-linejoin="round"/>
<path d="M1609.7 2080.0L1606.3 2087.5" fill="none" stroke="#8DC21F" stroke-width="1.4" stroke-linecap="round" stroke-linejoin="round"/>
<path d="M1615.5 2079.1L1612.5 2087.5" fill="none" stroke="#8DC21F" stroke-width="1.4" stroke-linecap="round" stroke-linejoin="round"/>
<path d="M1599.9 2091.7L1602.5 2096.7" fill="none" stroke="#8DC21F" stroke-width="1.6" stroke-linecap="round" stroke-linejoin="round"/>
<ellipse cx="1608.7" cy="2042.1" rx="1.4" ry="0.8" fill="#8DC21F"/>
<ellipse cx="1601.5" cy="2035.2" rx="0.8" ry="1.3" fill="#8DC21F"/>
<ellipse cx="1622.2" cy="2039.7" rx="0.8" ry="0.8" fill="#8DC21F"/>
<ellipse cx="1596.7" cy="2044.1" rx="0.8" ry="0.9" fill="#8DC21F"/>
<ellipse cx="1598.9" cy="2025.6" rx="1.3" ry="1.1" fill="#8DC21F"/>
<ellipse cx="1614.2" cy="2036.9" rx="1.6" ry="1.0" fill="#8DC21F"/>
<ellipse cx="1614.5" cy="2040.9" rx="1.0" ry="1.6" fill="#8DC21F"/>
<ellipse cx="1616.9" cy="2048.3" rx="1.4" ry="1.1" fill="#8DC21F"/>
<ellipse cx="1608.0" cy="2036.3" rx="0.8" ry="0.9" fill="#8DC21F"/>
<ellipse cx="1606.6" cy="2028.2" rx="1.0" ry="1.3" fill="#8DC21F"/>
<ellipse cx="1602.8" cy="2039.6" rx="1.6" ry="1.5" fill="#8DC21F"/>
<ellipse cx="1611.8" cy="2049.3" rx="1.3" ry="1.7" fill="#8DC21F"/>
<ellipse cx="1610.2" cy="2029.4" rx="1.8" ry="0.8" fill="#8DC21F"/>
<ellipse cx="1597.8" cy="2044.3" rx="0.9" ry="1.2" fill="#8DC21F"/>
<ellipse cx="1625.4" cy="2040.5" rx="1.5" ry="1.3" fill="#8DC21F"/>
<ellipse cx="1617.8" cy="2031.4" rx="1.5" ry="1.4" fill="#8DC21F"/>
<ellipse cx="1601.3" cy="2032.3" rx="1.6" ry="1.7" fill="#8DC21F"/>
<ellipse cx="1597.1" cy="2039.4" rx="0.8" ry="1.5" fill="#8DC21F"/>
<ellipse cx="1600.3" cy="2024.0" rx="1.6" ry="1.0" fill="#8DC21F"/>
<ellipse cx="1600.4" cy="2045.9" rx="0.7" ry="1.2" fill="#8DC21F"/>
<ellipse cx="1613.8" cy="2041.3" rx="0.8" ry="1.5" fill="#8DC21F"/>
<ellipse cx="1616.8" cy="2042.5" rx="1.1" ry="1.7" fill="#8DC21F"/>
<ellipse cx="1621.3" cy="2042.3" rx="1.3" ry="1.7" fill="#8DC21F"/>
<ellipse cx="1618.4" cy="2023.4" rx="1.0" ry="1.2" fill="#8DC21F"/>
<ellipse cx="1600.5" cy="2049.3" rx="1.8" ry="0.9" fill="#8DC21F"/>
<ellipse cx="1614.8" cy="2043.5" rx="1.0" ry="1.2" fill="#8DC21F"/>
<ellipse cx="1604.3" cy="2033.3" rx="0.7" ry="1.2" fill="#8DC21F"/>
<ellipse cx="1602.4" cy="2046.0" rx="1.7" ry="1.5" fill="#8DC21F"/>
<ellipse cx="1597.6" cy="2036.1" rx="1.4" ry="0.8" fill="#8DC21F"/>
<ellipse cx="1624.1" cy="2028.8" rx="1.7" ry="1.6" fill="#8DC21F"/>
<ellipse cx="1603.1" cy="2043.3" rx="0.8" ry="1.4" fill="#8DC21F"/>
<ellipse cx="1614.7" cy="2038.5" rx="0.9" ry="0.9" fill="#8DC21F"/>
<ellipse cx="1609.6" cy="2039.7" rx="0.7" ry="0.9" fill="#8DC21F"/>
<ellipse cx="1619.4" cy="2042.7" rx="0.7" ry="1.7" fill="#8DC21F"/>
<ellipse cx="1606.9" cy="2033.8" rx="1.0" ry="1.1" fill="#8DC21F"/>
<ellipse cx="1607.9" cy="2040.9" rx="1.6" ry="1.8" fill="#8DC21F"/>
<ellipse cx="1599.7" cy="2039.6" rx="0.8" ry="0.8" fill="#8DC21F"/>
<ellipse cx="1606.8" cy="2043.6" rx="1.6" ry="0.9" fill="#8DC21F"/>
<ellipse cx="1629.0" cy="2039.6" rx="1.3" ry="0.9" fill="#8DC21F"/>
<ellipse cx="1609.3" cy="2036.8" rx="1.3" ry="1.8" fill="#8DC21F"/>
<ellipse cx="1621.0" cy="2027.1" rx="1.0" ry="1.1" fill="#8DC21F"/>
<ellipse cx="1619.2" cy="2049.7" rx="1.3" ry="1.6" fill="#8DC21F"/>
<ellipse cx="1607.7" cy="2043.3" rx="1.6" ry="1.8" fill="#8DC21F"/>
<ellipse cx="1621.1" cy="2025.5" rx="1.6" ry="1.5" fill="#8DC21F"/>
<ellipse cx="1613.1" cy="2048.4" rx="1.1" ry="0.7" fill="#8DC21F"/>
<ellipse cx="1619.8" cy="2038.6" rx="1.0" ry="1.5" fill="#8DC21F"/>
<ellipse cx="1622.3" cy="2034.5" rx="1.7" ry="1.8" fill="#8DC21F"/>
<ellipse cx="1621.0" cy="2034.7" rx="0.9" ry="0.9" fill="#8DC21F"/>
<ellipse cx="1613.7" cy="2043.4" rx="1.4" ry="1.7" fill="#8DC21F"/>
<ellipse cx="1617.7" cy="2028.2" rx="1.4" ry="1.6" fill="#8DC21F"/>
<ellipse cx="1623.7" cy="2043.9" rx="1.7" ry="1.6" fill="#8DC21F"/>
<ellipse cx="1611.3" cy="2026.5" rx="0.9" ry="1.6" fill="#8DC21F"/>
<ellipse cx="1603.3" cy="2050.0" rx="1.8" ry="1.1" fill="#8DC21F"/>
<ellipse cx="1596.8" cy="2046.7" rx="1.5" ry="0.9" fill="#8DC21F"/>
<ellipse cx="1615.5" cy="2041.1" rx="1.7" ry="1.6" fill="#8DC21F"/>
<ellipse cx="1621.3" cy="2049.2" rx="1.8" ry="1.4" fill="#8DC21F"/>
<ellipse cx="1603.8" cy="2046.7" rx="0.8" ry="0.7" fill="#8DC21F"/>
<ellipse cx="1625.3" cy="2034.9" rx="1.3" ry="1.7" fill="#8DC21F"/>
<ellipse cx="1595.8" cy="2043.5" rx="1.6" ry="0.9" fill="#8DC21F"/>
<ellipse cx="1611.2" cy="2045.3" rx="1.0" ry="1.3" fill="#8DC21F"/>
<ellipse cx="1610.7" cy="2047.2" rx="0.8" ry="1.7" fill="#8DC21F"/>
<ellipse cx="1604.3" cy="2045.6" rx="1.3" ry="1.7" fill="#8DC21F"/>
<ellipse cx="1596.0" cy="2044.9" rx="1.3" ry="1.3" fill="#8DC21F"/>
<ellipse cx="1609.7" cy="2037.1" rx="1.2" ry="0.9" fill="#8DC21F"/>
<ellipse cx="1627.4" cy="2037.6" rx="0.9" ry="1.2" fill="#8DC21F"/>
<ellipse cx="1609.3" cy="2025.6" rx="1.1" ry="1.3" fill="#8DC21F"/>
<ellipse cx="1596.4" cy="2032.3" rx="0.8" ry="1.3" fill="#8DC21F"/>
<ellipse cx="1611.4" cy="2045.0" rx="1.5" ry="1.3" fill="#8DC21F"/>
<ellipse cx="1596.9" cy="2031.9" rx="1.7" ry="1.2" fill="#8DC21F"/>
<ellipse cx="1602.0" cy="2030.1" rx="1.3" ry="1.5" fill="#8DC21F"/>
<ellipse cx="1640.6" cy="1997.9" rx="1.6" ry="1.1" fill="#8DC21F"/>
<ellipse cx="1645.7" cy="2000.5" rx="1.6" ry="1.1" fill="#8DC21F"/>
<ellipse cx="1649.0" cy="2005.5" rx="1.6" ry="1.1" fill="#8DC21F"/>
<ellipse cx="1635.6" cy="2011.3" rx="1.6" ry="1.1" fill="#8DC21F"/>
<ellipse cx="1639.0" cy="2015.5" rx="1.6" ry="1.1" fill="#8DC21F"/>
<ellipse cx="1652.4" cy="2013.8" rx="1.6" ry="1.1" fill="#8DC21F"/>
<ellipse cx="1660.7" cy="2010.5" rx="1.6" ry="1.1" fill="#8DC21F"/>
<ellipse cx="1664.9" cy="2007.1" rx="1.6" ry="1.1" fill="#8DC21F"/>
<path d="M1498.4 2001.9C1498.8 2001.2 1500.3 2002.4 1501.3 2003.6C1502.4 2004.9 1503.8 2007.8 1504.7 2009.4C1505.6 2011.1 1505.3 2012.7 1506.9 2013.8C1508.4 2014.9 1511.5 2015.5 1514.1 2016.0C1516.8 2016.4 1520.0 2016.5 1522.8 2016.4C1525.7 2016.3 1529.7 2015.3 1531.2 2015.5C1532.7 2015.8 1532.7 2017.5 1531.8 2018.2C1530.9 2018.8 1528.7 2019.2 1525.7 2019.6C1522.8 2020.0 1517.3 2020.6 1514.1 2020.3C1511.0 2020.1 1508.8 2019.4 1506.9 2018.2C1504.9 2016.9 1503.5 2014.8 1502.2 2013.1C1501.0 2011.4 1499.9 2009.9 1499.3 2008.0C1498.7 2006.1 1498.1 2002.6 1498.4 2001.9Z" fill="#8DC21F"/>
<path d="M1598.4 2104.4C1597.9 2104.4 1594.9 2109.2 1593.3 2111.2C1591.7 2113.2 1590.5 2113.7 1588.9 2116.3C1587.4 2118.8 1586.3 2123.6 1583.9 2126.4C1581.4 2129.3 1577.1 2131.5 1574.4 2133.4C1571.8 2135.3 1569.5 2135.6 1567.9 2138.0C1566.3 2140.5 1564.7 2144.8 1564.6 2148.2C1564.4 2151.6 1565.8 2155.4 1567.2 2158.4C1568.6 2161.3 1570.3 2164.1 1573.0 2165.6C1575.6 2167.1 1579.5 2167.3 1583.1 2167.3C1586.8 2167.4 1591.4 2166.4 1594.7 2165.9C1598.1 2165.4 1601.3 2163.8 1603.4 2164.4C1605.6 2165.1 1606.3 2168.0 1607.8 2170.0C1609.3 2171.9 1610.9 2175.4 1612.2 2176.1C1613.4 2176.7 1615.2 2175.3 1615.1 2173.6C1614.9 2171.8 1612.2 2168.4 1611.0 2165.6C1609.8 2162.8 1608.1 2159.8 1608.1 2156.9C1608.0 2154.0 1610.4 2151.8 1610.7 2148.2C1611.0 2144.6 1610.6 2139.2 1610.1 2135.1C1609.7 2131.0 1608.7 2127.1 1608.1 2123.5C1607.5 2119.9 1607.2 2113.9 1606.6 2113.7C1606.1 2113.4 1604.9 2119.0 1604.6 2122.1C1604.4 2125.2 1605.4 2128.8 1605.2 2132.2C1605.0 2135.6 1604.7 2139.4 1603.4 2142.4C1602.2 2145.3 1599.8 2148.2 1597.6 2149.9C1595.5 2151.7 1593.0 2152.6 1590.4 2152.8C1587.7 2153.1 1584.1 2152.6 1581.7 2151.4C1579.3 2150.2 1576.4 2147.8 1575.9 2145.6C1575.3 2143.4 1576.8 2140.6 1578.5 2138.0C1580.2 2135.5 1583.9 2133.0 1586.0 2130.1C1588.1 2127.2 1589.4 2123.8 1591.1 2120.6C1592.8 2117.5 1595.0 2113.9 1596.2 2111.2C1597.4 2108.5 1598.9 2104.4 1598.4 2104.4Z" fill="#8DC21F"/>
<ellipse cx="1564.1" cy="2152.7" rx="1.2" ry="1.1" fill="#8DC21F"/>
<ellipse cx="1564.7" cy="2153.8" rx="0.6" ry="1.1" fill="#8DC21F"/>
<ellipse cx="1566.0" cy="2161.8" rx="0.6" ry="0.9" fill="#8DC21F"/>
<ellipse cx="1560.2" cy="2162.5" rx="1.1" ry="0.6" fill="#8DC21F"/>
<ellipse cx="1569.9" cy="2168.6" rx="1.0" ry="1.2" fill="#8DC21F"/>
<ellipse cx="1560.9" cy="2131.4" rx="0.9" ry="0.7" fill="#8DC21F"/>
<ellipse cx="1561.3" cy="2140.3" rx="0.5" ry="1.1" fill="#8DC21F"/>
<ellipse cx="1564.0" cy="2163.8" rx="0.9" ry="1.2" fill="#8DC21F"/>
<ellipse cx="1564.6" cy="2156.7" rx="0.9" ry="0.9" fill="#8DC21F"/>
<ellipse cx="1570.0" cy="2169.8" rx="1.2" ry="1.3" fill="#8DC21F"/>
<ellipse cx="1562.6" cy="2139.8" rx="0.7" ry="0.7" fill="#8DC21F"/>
<ellipse cx="1567.5" cy="2146.5" rx="1.2" ry="1.0" fill="#8DC21F"/>
<ellipse cx="1569.6" cy="2164.0" rx="0.5" ry="0.8" fill="#8DC21F"/>
<ellipse cx="1569.1" cy="2149.2" rx="1.3" ry="1.0" fill="#8DC21F"/>
<ellipse cx="1560.0" cy="2155.4" rx="1.1" ry="0.9" fill="#8DC21F"/>
<ellipse cx="1560.1" cy="2143.8" rx="1.3" ry="1.4" fill="#8DC21F"/>
<ellipse cx="1560.5" cy="2140.4" rx="0.6" ry="0.7" fill="#8DC21F"/>
<ellipse cx="1567.9" cy="2137.7" rx="0.9" ry="1.0" fill="#8DC21F"/>
<ellipse cx="1561.3" cy="2159.5" rx="0.6" ry="1.2" fill="#8DC21F"/>
<ellipse cx="1560.5" cy="2147.3" rx="0.7" ry="0.9" fill="#8DC21F"/>
<ellipse cx="1569.8" cy="2162.3" rx="0.7" ry="1.5" fill="#8DC21F"/>
<ellipse cx="1561.5" cy="2146.2" rx="1.2" ry="1.2" fill="#8DC21F"/>
<ellipse cx="1560.3" cy="2169.5" rx="0.7" ry="0.9" fill="#8DC21F"/>
<ellipse cx="1567.6" cy="2143.7" rx="0.7" ry="0.7" fill="#8DC21F"/>
<ellipse cx="1560.2" cy="2153.6" rx="0.7" ry="1.2" fill="#8DC21F"/>
<ellipse cx="1563.2" cy="2148.5" rx="1.3" ry="1.1" fill="#8DC21F"/>
<ellipse cx="1565.4" cy="2164.7" rx="0.6" ry="0.8" fill="#8DC21F"/>
<ellipse cx="1569.1" cy="2162.8" rx="0.7" ry="0.8" fill="#8DC21F"/>
<ellipse cx="1567.2" cy="2167.6" rx="0.7" ry="1.6" fill="#8DC21F"/>
<ellipse cx="1568.8" cy="2154.4" rx="0.8" ry="0.7" fill="#8DC21F"/>
<ellipse cx="1559.6" cy="2168.5" rx="0.7" ry="1.3" fill="#8DC21F"/>
<ellipse cx="1562.0" cy="2163.1" rx="1.0" ry="0.9" fill="#8DC21F"/>
<ellipse cx="1561.1" cy="2159.0" rx="0.6" ry="0.8" fill="#8DC21F"/>
<ellipse cx="1565.3" cy="2164.2" rx="1.0" ry="0.9" fill="#8DC21F"/>
<ellipse cx="1569.2" cy="2138.8" rx="0.5" ry="0.9" fill="#8DC21F"/>
<ellipse cx="1564.0" cy="2133.2" rx="0.6" ry="1.0" fill="#8DC21F"/>
<ellipse cx="1565.4" cy="2135.9" rx="0.8" ry="1.5" fill="#8DC21F"/>
<ellipse cx="1569.9" cy="2156.5" rx="1.1" ry="1.2" fill="#8DC21F"/>
<ellipse cx="1560.7" cy="2132.2" rx="0.5" ry="1.5" fill="#8DC21F"/>
<ellipse cx="1566.8" cy="2168.5" rx="0.5" ry="1.2" fill="#8DC21F"/>
<ellipse cx="1564.4" cy="2159.4" rx="0.8" ry="1.6" fill="#8DC21F"/>
<ellipse cx="1560.0" cy="2152.2" rx="1.1" ry="1.5" fill="#8DC21F"/>
<ellipse cx="1567.2" cy="2158.4" rx="1.1" ry="1.5" fill="#8DC21F"/>
<ellipse cx="1563.0" cy="2157.6" rx="1.2" ry="1.5" fill="#8DC21F"/>
<ellipse cx="1563.7" cy="2161.8" rx="1.2" ry="1.2" fill="#8DC21F"/>
<ellipse cx="1566.0" cy="2145.8" rx="1.0" ry="1.2" fill="#8DC21F"/>
<ellipse cx="1583.3" cy="2141.8" rx="1.0" ry="0.9" fill="#8DC21F"/>
<ellipse cx="1596.5" cy="2136.3" rx="0.8" ry="0.7" fill="#8DC21F"/>
<ellipse cx="1590.6" cy="2146.1" rx="0.5" ry="0.9" fill="#8DC21F"/>
<ellipse cx="1582.3" cy="2141.0" rx="0.7" ry="0.5" fill="#8DC21F"/>
<ellipse cx="1595.9" cy="2138.7" rx="0.8" ry="1.0" fill="#8DC21F"/>
<ellipse cx="1586.9" cy="2128.1" rx="0.6" ry="0.8" fill="#8DC21F"/>
<ellipse cx="1585.8" cy="2131.6" rx="0.9" ry="0.8" fill="#8DC21F"/>
<ellipse cx="1590.7" cy="2147.3" rx="0.6" ry="0.8" fill="#8DC21F"/>
<ellipse cx="1585.7" cy="2137.3" rx="0.9" ry="0.9" fill="#8DC21F"/>
<ellipse cx="1599.6" cy="2136.2" rx="0.7" ry="0.6" fill="#8DC21F"/>
<ellipse cx="1584.4" cy="2138.7" rx="0.9" ry="0.9" fill="#8DC21F"/>
<ellipse cx="1596.1" cy="2148.6" rx="0.6" ry="0.5" fill="#8DC21F"/>
<ellipse cx="1590.8" cy="2133.9" rx="0.5" ry="0.6" fill="#8DC21F"/>
<ellipse cx="1594.4" cy="2138.6" rx="0.6" ry="0.9" fill="#8DC21F"/>
<ellipse cx="1601.6" cy="2137.7" rx="0.4" ry="0.4" fill="#8DC21F"/>
<ellipse cx="1599.4" cy="2128.8" rx="0.8" ry="0.7" fill="#8DC21F"/>
<ellipse cx="1588.0" cy="2145.1" rx="0.4" ry="0.5" fill="#8DC21F"/>
<ellipse cx="1590.9" cy="2128.4" rx="0.9" ry="0.5" fill="#8DC21F"/>
<ellipse cx="1584.5" cy="2128.9" rx="0.8" ry="0.7" fill="#8DC21F"/>
<ellipse cx="1594.5" cy="2142.1" rx="0.9" ry="1.0" fill="#8DC21F"/>
<ellipse cx="1595.6" cy="2132.2" rx="0.7" ry="0.5" fill="#8DC21F"/>
<ellipse cx="1581.9" cy="2138.2" rx="0.8" ry="0.5" fill="#8DC21F"/>
<path d="M1573.0 2113.4L1571.5 2117.7" fill="none" stroke="#8DC21F" stroke-width="1.2" stroke-linecap="round" stroke-linejoin="round"/>
<path d="M1618.0 2111.2L1616.8 2115.5" fill="none" stroke="#8DC21F" stroke-width="1.2" stroke-linecap="round" stroke-linejoin="round"/>
<path d="M1606.3 2103.2L1605.8 2108.3" fill="none" stroke="#8DC21F" stroke-width="1.5" stroke-linecap="round" stroke-linejoin="round"/>
<path d="M1599.8 2091.6L1602.3 2096.7" fill="none" stroke="#8DC21F" stroke-width="2.0" stroke-linecap="round" stroke-linejoin="round"/>
<path d="M1606.3 2081.5L1604.9 2088.0" fill="none" stroke="#8DC21F" stroke-width="2.0" stroke-linecap="round" stroke-linejoin="round"/>
<path d="M1611.0 2080.0L1609.3 2087.3" fill="none" stroke="#8DC21F" stroke-width="1.8" stroke-linecap="round" stroke-linejoin="round"/>
<path d="M1615.1 2080.0L1613.3 2086.5" fill="none" stroke="#8DC21F" stroke-width="1.8" stroke-linecap="round" stroke-linejoin="round"/>
<path d="M1433.7 2174.6C1433.9 2173.6 1436.0 2173.2 1437.3 2174.3C1438.6 2175.5 1440.5 2179.3 1441.7 2181.6C1442.9 2183.9 1443.2 2185.4 1444.6 2188.1C1445.9 2190.8 1448.0 2194.8 1449.6 2197.5C1451.3 2200.3 1454.5 2203.1 1454.7 2204.5C1454.9 2205.9 1451.8 2204.8 1450.8 2205.9C1449.8 2207.1 1449.5 2211.0 1448.9 2211.3C1448.3 2211.6 1447.2 2209.1 1447.0 2207.7C1446.9 2206.2 1448.7 2204.8 1448.2 2202.6C1447.7 2200.4 1445.3 2197.4 1443.8 2194.6C1442.4 2191.8 1440.8 2188.3 1439.5 2185.9C1438.2 2183.5 1436.8 2182.0 1435.9 2180.1C1434.9 2178.2 1433.4 2175.6 1433.7 2174.6Z" fill="#8DC21F"/>
<path d="M1452.5 2211.3C1453.5 2210.8 1456.4 2210.0 1458.4 2208.4C1460.3 2206.8 1462.5 2204.6 1464.2 2201.9C1465.8 2199.1 1467.8 2193.7 1468.5 2192.0" fill="none" stroke="#8DC21F" stroke-width="2.6" stroke-linecap="round" stroke-linejoin="round"/>
<ellipse cx="1474.9" cy="2131.4" rx="1.2" ry="1.0" fill="#8DC21F"/>
<ellipse cx="1468.9" cy="2123.0" rx="1.0" ry="1.2" fill="#8DC21F"/>
<ellipse cx="1479.4" cy="2125.5" rx="1.4" ry="1.1" fill="#8DC21F"/>
<ellipse cx="1480.6" cy="2130.7" rx="1.2" ry="1.2" fill="#8DC21F"/>
<ellipse cx="1470.2" cy="2131.0" rx="1.4" ry="1.2" fill="#8DC21F"/>
<ellipse cx="1482.4" cy="2125.5" rx="1.2" ry="0.7" fill="#8DC21F"/>
<ellipse cx="1474.1" cy="2120.6" rx="1.2" ry="1.1" fill="#8DC21F"/>
<ellipse cx="1478.1" cy="2134.0" rx="1.5" ry="1.3" fill="#8DC21F"/>
<ellipse cx="1466.6" cy="2125.7" rx="0.9" ry="1.2" fill="#8DC21F"/>
<ellipse cx="1479.6" cy="2123.7" rx="0.7" ry="0.9" fill="#8DC21F"/>
<ellipse cx="1467.0" cy="2125.2" rx="1.0" ry="0.6" fill="#8DC21F"/>
<ellipse cx="1477.3" cy="2124.4" rx="1.3" ry="0.7" fill="#8DC21F"/>
<ellipse cx="1471.0" cy="2132.8" rx="0.7" ry="0.7" fill="#8DC21F"/>
<ellipse cx="1466.9" cy="2126.5" rx="1.4" ry="1.1" fill="#8DC21F"/>
<ellipse cx="1482.6" cy="2125.5" rx="1.5" ry="0.7" fill="#8DC21F"/>
<ellipse cx="1477.1" cy="2132.3" rx="0.9" ry="1.1" fill="#8DC21F"/>
<ellipse cx="1470.9" cy="2123.2" rx="1.4" ry="1.0" fill="#8DC21F"/>
<ellipse cx="1473.3" cy="2131.3" rx="1.4" ry="1.2" fill="#8DC21F"/>
<ellipse cx="1478.3" cy="2133.7" rx="1.5" ry="1.0" fill="#8DC21F"/>
<ellipse cx="1471.1" cy="2125.6" rx="1.1" ry="1.0" fill="#8DC21F"/>
<ellipse cx="1472.6" cy="2125.5" rx="1.5" ry="1.0" fill="#8DC21F"/>
<ellipse cx="1468.1" cy="2131.0" rx="1.1" ry="0.9" fill="#8DC21F"/>
<ellipse cx="1474.2" cy="2124.4" rx="1.1" ry="0.9" fill="#8DC21F"/>
<ellipse cx="1485.7" cy="2125.2" rx="0.8" ry="0.9" fill="#8DC21F"/>
<ellipse cx="1480.6" cy="2130.6" rx="1.3" ry="1.2" fill="#8DC21F"/>
<ellipse cx="1469.8" cy="2127.8" rx="0.8" ry="1.0" fill="#8DC21F"/>
<ellipse cx="1480.0" cy="2125.7" rx="1.3" ry="0.6" fill="#8DC21F"/>
<ellipse cx="1477.6" cy="2130.7" rx="1.2" ry="0.8" fill="#8DC21F"/>
<ellipse cx="1470.7" cy="2131.6" rx="0.7" ry="1.1" fill="#8DC21F"/>
<ellipse cx="1481.1" cy="2130.7" rx="0.8" ry="0.7" fill="#8DC21F"/>
<ellipse cx="1469.0" cy="2126.2" rx="0.9" ry="0.9" fill="#8DC21F"/>
<ellipse cx="1470.9" cy="2126.5" rx="0.8" ry="1.0" fill="#8DC21F"/>
<ellipse cx="1470.9" cy="2123.2" rx="1.4" ry="1.0" fill="#8DC21F"/>
<ellipse cx="1479.2" cy="2124.2" rx="1.3" ry="1.2" fill="#8DC21F"/>
<ellipse cx="1480.7" cy="2124.8" rx="0.9" ry="1.2" fill="#8DC21F"/>
<ellipse cx="1477.9" cy="2134.5" rx="1.4" ry="0.7" fill="#8DC21F"/>
<ellipse cx="1432.2" cy="2111.2" rx="0.9" ry="1.2" fill="#8DC21F"/>
<ellipse cx="1442.4" cy="2112.6" rx="0.9" ry="1.2" fill="#8DC21F"/>
<ellipse cx="1444.6" cy="2116.3" rx="0.9" ry="1.2" fill="#8DC21F"/>
<ellipse cx="1446.7" cy="2110.5" rx="0.9" ry="1.2" fill="#8DC21F"/>
<ellipse cx="1448.2" cy="2120.6" rx="0.9" ry="1.2" fill="#8DC21F"/>
<ellipse cx="1450.4" cy="2130.1" rx="0.9" ry="1.2" fill="#8DC21F"/>
<ellipse cx="1459.1" cy="2111.2" rx="0.9" ry="1.2" fill="#8DC21F"/>
<ellipse cx="1463.4" cy="2115.5" rx="0.9" ry="1.2" fill="#8DC21F"/>
<ellipse cx="1435.1" cy="2161.3" rx="0.9" ry="1.2" fill="#8DC21F"/>
<ellipse cx="1442.4" cy="2163.4" rx="0.9" ry="1.2" fill="#8DC21F"/>
<ellipse cx="1434.0" cy="2167.1" rx="0.9" ry="1.2" fill="#8DC21F"/>
<ellipse cx="1430.1" cy="2171.1" rx="0.9" ry="1.2" fill="#8DC21F"/>
<path d="M1537.4 2155.2C1538.2 2155.3 1539.6 2157.5 1540.3 2159.1C1541.1 2160.7 1541.9 2163.0 1541.8 2164.9C1541.7 2166.7 1540.6 2168.9 1539.6 2170.2C1538.6 2171.6 1535.8 2173.4 1535.5 2172.9C1535.3 2172.3 1537.4 2169.0 1537.9 2167.1C1538.3 2165.1 1538.5 2162.7 1538.2 2161.3C1537.8 2159.8 1535.7 2159.4 1535.5 2158.4C1535.4 2157.3 1536.6 2155.0 1537.4 2155.2Z" fill="#8DC21F"/>
<path d="M1524.8 2173.6C1525.1 2174.1 1526.1 2176.1 1526.8 2176.9C1527.6 2177.8 1529.0 2178.4 1529.4 2178.7" fill="none" stroke="#8DC21F" stroke-width="1.8" stroke-linecap="round" stroke-linejoin="round"/>
<path d="M1587.5 2193.2L1589.7 2197.8L1596.5 2199.8L1592.1 2203.6L1586.0 2202.8L1587.2 2198.3Z" fill="#8DC21F"/>
<path d="M1486.6 2219.3L1494.9 2216.4L1496.4 2222.5L1500.7 2227.4L1493.5 2228.0L1490.6 2231.2L1487.4 2227.4L1482.3 2227.4L1484.8 2223.1Z" fill="#8DC21F"/>
<path d="M1470.2 2231.2C1471.2 2230.2 1473.8 2227.2 1476.1 2225.4C1478.3 2223.6 1482.5 2221.2 1483.7 2220.3" fill="none" stroke="#8DC21F" stroke-width="1.8" stroke-linecap="round" stroke-linejoin="round"/>
<path d="M1472.9 2229.4L1480.1 2226.5" fill="none" stroke="#8DC21F" stroke-width="1.2" stroke-linecap="round" stroke-linejoin="round"/>
<path d="M1462.7 2256.7C1463.1 2256.0 1465.4 2258.9 1467.1 2260.2C1468.8 2261.5 1470.7 2264.1 1472.9 2264.6C1475.0 2265.0 1478.2 2264.2 1480.1 2263.1C1482.1 2262.0 1482.5 2259.0 1484.5 2257.9C1486.5 2256.7 1491.0 2255.9 1492.0 2256.1C1493.0 2256.4 1491.5 2258.3 1490.3 2259.3C1489.1 2260.4 1486.4 2260.9 1484.8 2262.2C1483.1 2263.6 1482.4 2266.0 1480.4 2267.5C1478.4 2268.9 1475.1 2270.4 1472.9 2270.9C1470.6 2271.5 1468.4 2272.0 1467.1 2270.9C1465.7 2269.9 1465.6 2266.9 1464.9 2264.6C1464.2 2262.2 1462.3 2257.5 1462.7 2256.7Z" fill="#8DC21F"/>
<path d="M1552.2 2234.5L1558.5 2231.8" fill="none" stroke="#8DC21F" stroke-width="1.3" stroke-linecap="round" stroke-linejoin="round"/>
<path d="M1511.3 2291.5L1513.5 2290.7" fill="none" stroke="#8DC21F" stroke-width="1.2" stroke-linecap="round" stroke-linejoin="round"/>
<path d="M1478.6 2275.2L1480.1 2276.7L1478.6 2281.8L1477.2 2287.6L1473.1 2290.8L1469.9 2296.3L1467.7 2299.9L1466.3 2303.5L1461.2 2303.5L1459.0 2307.9L1456.9 2313.0L1460.5 2315.9L1466.3 2314.0L1469.2 2317.3L1467.7 2322.4L1464.1 2328.2L1458.3 2334.0L1452.5 2339.1L1447.4 2343.4L1443.8 2345.9L1441.2 2349.2L1443.1 2351.4L1439.4 2353.6L1436.5 2356.1L1433.6 2359.0L1431.5 2354.3L1430.7 2347.1L1430.0 2338.4L1429.3 2329.6L1427.8 2320.9L1433.6 2316.6L1440.9 2312.2L1446.7 2309.3L1451.1 2303.5L1456.9 2296.3L1462.7 2287.6L1467.0 2281.8L1472.8 2277.4Z" fill="#8DC21F" stroke="#8DC21F" stroke-width="0.8" stroke-linejoin="round"/>
<path d="M1491.0 2301.8C1491.2 2302.4 1490.0 2304.8 1489.1 2306.1C1488.1 2307.5 1486.4 2308.6 1485.2 2310.1C1483.9 2311.5 1482.9 2313.3 1481.8 2314.8C1480.7 2316.4 1479.8 2318.1 1478.6 2319.2C1477.4 2320.3 1475.3 2321.9 1474.6 2321.7C1473.8 2321.5 1473.7 2319.3 1474.0 2318.0C1474.3 2316.8 1475.5 2315.4 1476.4 2314.0C1477.4 2312.6 1478.6 2311.2 1479.8 2309.6C1481.0 2308.0 1482.4 2305.5 1483.7 2304.3C1485.0 2303.0 1486.1 2302.8 1487.3 2302.4C1488.5 2302.0 1490.7 2301.2 1491.0 2301.8Z" fill="#8DC21F"/>
<path d="M1478.6 2291.6L1480.4 2291.3L1480.7 2294.5L1478.9 2294.2Z" fill="#8DC21F"/>
<path d="M1511.7 2291.1L1513.7 2291.6" fill="none" stroke="#8DC21F" stroke-width="1.2" stroke-linecap="round" stroke-linejoin="round"/>
<path d="M1467.7 2283.9C1469.0 2281.8 1471.6 2282.1 1472.1 2283.2C1472.6 2284.3 1471.4 2288.2 1470.6 2290.5C1469.8 2292.8 1468.3 2296.0 1467.3 2297.0C1466.3 2298.0 1464.8 2298.5 1464.8 2296.3C1464.9 2294.1 1466.5 2286.1 1467.7 2283.9Z" fill="#A5D06A"/>
<path d="M1448.2 2318.0C1449.6 2315.5 1452.7 2313.6 1455.4 2313.0C1458.1 2312.3 1462.0 2313.1 1464.1 2314.0C1466.2 2314.8 1468.2 2316.2 1468.2 2318.0C1468.2 2319.9 1466.0 2322.9 1464.1 2325.3C1462.2 2327.7 1459.3 2330.3 1456.9 2332.5C1454.4 2334.8 1451.5 2338.1 1449.6 2339.1C1447.7 2340.0 1445.7 2340.2 1445.3 2338.4C1444.8 2336.5 1446.2 2331.6 1446.7 2328.2C1447.2 2324.8 1446.7 2320.6 1448.2 2318.0Z" fill="#A5D06A"/>
<path d="M1456.9 2317.3C1457.9 2315.9 1460.4 2315.1 1461.9 2315.1C1463.5 2315.1 1466.0 2315.9 1466.3 2317.3C1466.5 2318.8 1464.7 2322.0 1463.4 2323.8C1462.1 2325.7 1459.6 2328.2 1458.3 2328.2C1457.0 2328.2 1455.7 2325.7 1455.4 2323.8C1455.2 2322.0 1455.8 2318.8 1456.9 2317.3Z" fill="#8DC21F"/>
<path d="M1321.2 2414.5L1333.5 2413.8L1340.1 2411.2L1342.2 2416.0L1348.0 2419.6L1353.4 2424.7L1352.0 2428.3L1348.3 2431.9L1347.5 2435.6L1340.8 2441.4L1335.0 2446.4L1329.2 2451.8L1319.7 2449.5L1324.8 2442.8L1326.3 2435.6L1327.7 2428.3L1324.8 2421.1Z" fill="#8DC21F" stroke="#8DC21F" stroke-width="1" stroke-linejoin="round"/>
</g>
<circle cx="1848.5" cy="1448.6" r="8.3" fill="#000" stroke="#444" stroke-width="0.6"/>
<circle cx="1844.6" cy="1446.0" r="8.3" fill="#000" stroke="#444" stroke-width="0.6"/>
<circle cx="1738.6" cy="1702.7" r="8.3" fill="#000" stroke="#444" stroke-width="0.6"/>
<circle cx="1745.0" cy="1693.7" r="8.3" fill="#000" stroke="#444" stroke-width="0.6"/>
<circle cx="1741.7" cy="1694.2" r="8.3" fill="#000" stroke="#444" stroke-width="0.6"/>
<circle cx="1698.3" cy="1704.5" r="8.5" fill="#FFFF00" stroke="#555" stroke-width="0.8"/>
<circle cx="1895.2" cy="1770.1" r="8.3" fill="#FF0000"/>
<circle cx="1853.6" cy="1860.9" r="8.3" fill="#000" stroke="#444" stroke-width="0.6"/>
<circle cx="1804.6" cy="1960.2" r="8.3" fill="#000" stroke="#444" stroke-width="0.6"/>
<circle cx="1423.3" cy="2327.2" r="8.5" fill="#FFFF00" stroke="#555" stroke-width="0.8"/>
<g font-size="33">
<text x="1812.8" y="1428.8">S5</text>
<text x="1863.4" y="1458.8">S6</text>
<text x="1748.7" y="1675.7">S9</text>
<text x="1705.8" y="1682.1">S8</text>
<text x="1629.3" y="1695.0">S10</text>
<text x="1709.4" y="1744.2">S7</text>
<text x="1887.3" y="1804.9">S4</text>
<text x="1845.4" y="1901.2">S3</text>
<text x="1799.2" y="1996.7">S2</text>
<text x="1373.8" y="2349.5">S1</text>
</g>
</svg></body></html>
